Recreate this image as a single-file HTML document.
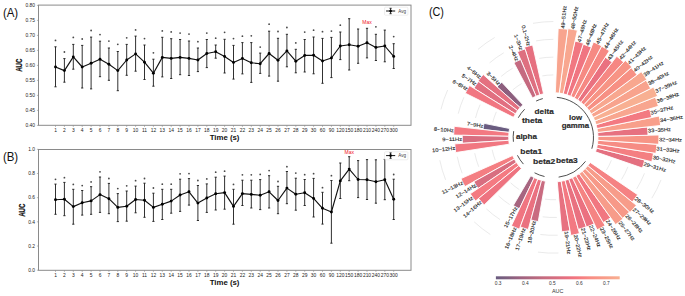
<!DOCTYPE html>
<html><head><meta charset="utf-8"><style>
html,body{margin:0;padding:0;background:#fff;width:685px;height:296px;overflow:hidden}
svg{display:block}
text{font-family:"Liberation Sans", sans-serif}
</style></head><body>
<svg width="685" height="296" viewBox="0 0 685 296" font-family='"Liberation Sans", sans-serif'><rect x="38.5" y="5.1" width="372.5" height="120.2" fill="none" stroke="#8a8a8a" stroke-width="1.0"/>
<line x1="36.9" y1="5.4" x2="38.5" y2="5.4" stroke="#8a8a8a" stroke-width="0.6"/>
<text x="35.0" y="7.1000000000000005" font-size="4.9" text-anchor="end" fill="#222">0.80</text>
<line x1="36.9" y1="20.4" x2="38.5" y2="20.4" stroke="#8a8a8a" stroke-width="0.6"/>
<text x="35.0" y="22.099999999999998" font-size="4.9" text-anchor="end" fill="#222">0.75</text>
<line x1="36.9" y1="35.4" x2="38.5" y2="35.4" stroke="#8a8a8a" stroke-width="0.6"/>
<text x="35.0" y="37.1" font-size="4.9" text-anchor="end" fill="#222">0.70</text>
<line x1="36.9" y1="50.4" x2="38.5" y2="50.4" stroke="#8a8a8a" stroke-width="0.6"/>
<text x="35.0" y="52.1" font-size="4.9" text-anchor="end" fill="#222">0.65</text>
<line x1="36.9" y1="65.4" x2="38.5" y2="65.4" stroke="#8a8a8a" stroke-width="0.6"/>
<text x="35.0" y="67.10000000000001" font-size="4.9" text-anchor="end" fill="#222">0.60</text>
<line x1="36.9" y1="80.4" x2="38.5" y2="80.4" stroke="#8a8a8a" stroke-width="0.6"/>
<text x="35.0" y="82.10000000000001" font-size="4.9" text-anchor="end" fill="#222">0.55</text>
<line x1="36.9" y1="95.4" x2="38.5" y2="95.4" stroke="#8a8a8a" stroke-width="0.6"/>
<text x="35.0" y="97.10000000000001" font-size="4.9" text-anchor="end" fill="#222">0.50</text>
<line x1="36.9" y1="110.4" x2="38.5" y2="110.4" stroke="#8a8a8a" stroke-width="0.6"/>
<text x="35.0" y="112.10000000000001" font-size="4.9" text-anchor="end" fill="#222">0.45</text>
<line x1="36.9" y1="125.4" x2="38.5" y2="125.4" stroke="#8a8a8a" stroke-width="0.6"/>
<text x="35.0" y="127.10000000000001" font-size="4.9" text-anchor="end" fill="#222">0.40</text>
<line x1="55.50" y1="125.3" x2="55.50" y2="126.89999999999999" stroke="#8a8a8a" stroke-width="0.6"/>
<text x="55.50" y="132.1" font-size="4.9" text-anchor="middle" fill="#222">1</text>
<line x1="64.40" y1="125.3" x2="64.40" y2="126.89999999999999" stroke="#8a8a8a" stroke-width="0.6"/>
<text x="64.40" y="132.1" font-size="4.9" text-anchor="middle" fill="#222">2</text>
<line x1="73.30" y1="125.3" x2="73.30" y2="126.89999999999999" stroke="#8a8a8a" stroke-width="0.6"/>
<text x="73.30" y="132.1" font-size="4.9" text-anchor="middle" fill="#222">3</text>
<line x1="82.20" y1="125.3" x2="82.20" y2="126.89999999999999" stroke="#8a8a8a" stroke-width="0.6"/>
<text x="82.20" y="132.1" font-size="4.9" text-anchor="middle" fill="#222">4</text>
<line x1="91.10" y1="125.3" x2="91.10" y2="126.89999999999999" stroke="#8a8a8a" stroke-width="0.6"/>
<text x="91.10" y="132.1" font-size="4.9" text-anchor="middle" fill="#222">5</text>
<line x1="100.00" y1="125.3" x2="100.00" y2="126.89999999999999" stroke="#8a8a8a" stroke-width="0.6"/>
<text x="100.00" y="132.1" font-size="4.9" text-anchor="middle" fill="#222">6</text>
<line x1="108.90" y1="125.3" x2="108.90" y2="126.89999999999999" stroke="#8a8a8a" stroke-width="0.6"/>
<text x="108.90" y="132.1" font-size="4.9" text-anchor="middle" fill="#222">7</text>
<line x1="117.80" y1="125.3" x2="117.80" y2="126.89999999999999" stroke="#8a8a8a" stroke-width="0.6"/>
<text x="117.80" y="132.1" font-size="4.9" text-anchor="middle" fill="#222">8</text>
<line x1="126.70" y1="125.3" x2="126.70" y2="126.89999999999999" stroke="#8a8a8a" stroke-width="0.6"/>
<text x="126.70" y="132.1" font-size="4.9" text-anchor="middle" fill="#222">9</text>
<line x1="135.60" y1="125.3" x2="135.60" y2="126.89999999999999" stroke="#8a8a8a" stroke-width="0.6"/>
<text x="135.60" y="132.1" font-size="4.9" text-anchor="middle" fill="#222">10</text>
<line x1="144.50" y1="125.3" x2="144.50" y2="126.89999999999999" stroke="#8a8a8a" stroke-width="0.6"/>
<text x="144.50" y="132.1" font-size="4.9" text-anchor="middle" fill="#222">11</text>
<line x1="153.40" y1="125.3" x2="153.40" y2="126.89999999999999" stroke="#8a8a8a" stroke-width="0.6"/>
<text x="153.40" y="132.1" font-size="4.9" text-anchor="middle" fill="#222">12</text>
<line x1="162.30" y1="125.3" x2="162.30" y2="126.89999999999999" stroke="#8a8a8a" stroke-width="0.6"/>
<text x="162.30" y="132.1" font-size="4.9" text-anchor="middle" fill="#222">13</text>
<line x1="171.20" y1="125.3" x2="171.20" y2="126.89999999999999" stroke="#8a8a8a" stroke-width="0.6"/>
<text x="171.20" y="132.1" font-size="4.9" text-anchor="middle" fill="#222">14</text>
<line x1="180.10" y1="125.3" x2="180.10" y2="126.89999999999999" stroke="#8a8a8a" stroke-width="0.6"/>
<text x="180.10" y="132.1" font-size="4.9" text-anchor="middle" fill="#222">15</text>
<line x1="189.00" y1="125.3" x2="189.00" y2="126.89999999999999" stroke="#8a8a8a" stroke-width="0.6"/>
<text x="189.00" y="132.1" font-size="4.9" text-anchor="middle" fill="#222">16</text>
<line x1="197.90" y1="125.3" x2="197.90" y2="126.89999999999999" stroke="#8a8a8a" stroke-width="0.6"/>
<text x="197.90" y="132.1" font-size="4.9" text-anchor="middle" fill="#222">17</text>
<line x1="206.80" y1="125.3" x2="206.80" y2="126.89999999999999" stroke="#8a8a8a" stroke-width="0.6"/>
<text x="206.80" y="132.1" font-size="4.9" text-anchor="middle" fill="#222">18</text>
<line x1="215.70" y1="125.3" x2="215.70" y2="126.89999999999999" stroke="#8a8a8a" stroke-width="0.6"/>
<text x="215.70" y="132.1" font-size="4.9" text-anchor="middle" fill="#222">19</text>
<line x1="224.60" y1="125.3" x2="224.60" y2="126.89999999999999" stroke="#8a8a8a" stroke-width="0.6"/>
<text x="224.60" y="132.1" font-size="4.9" text-anchor="middle" fill="#222">20</text>
<line x1="233.50" y1="125.3" x2="233.50" y2="126.89999999999999" stroke="#8a8a8a" stroke-width="0.6"/>
<text x="233.50" y="132.1" font-size="4.9" text-anchor="middle" fill="#222">21</text>
<line x1="242.40" y1="125.3" x2="242.40" y2="126.89999999999999" stroke="#8a8a8a" stroke-width="0.6"/>
<text x="242.40" y="132.1" font-size="4.9" text-anchor="middle" fill="#222">22</text>
<line x1="251.30" y1="125.3" x2="251.30" y2="126.89999999999999" stroke="#8a8a8a" stroke-width="0.6"/>
<text x="251.30" y="132.1" font-size="4.9" text-anchor="middle" fill="#222">23</text>
<line x1="260.20" y1="125.3" x2="260.20" y2="126.89999999999999" stroke="#8a8a8a" stroke-width="0.6"/>
<text x="260.20" y="132.1" font-size="4.9" text-anchor="middle" fill="#222">24</text>
<line x1="269.10" y1="125.3" x2="269.10" y2="126.89999999999999" stroke="#8a8a8a" stroke-width="0.6"/>
<text x="269.10" y="132.1" font-size="4.9" text-anchor="middle" fill="#222">25</text>
<line x1="278.00" y1="125.3" x2="278.00" y2="126.89999999999999" stroke="#8a8a8a" stroke-width="0.6"/>
<text x="278.00" y="132.1" font-size="4.9" text-anchor="middle" fill="#222">26</text>
<line x1="286.90" y1="125.3" x2="286.90" y2="126.89999999999999" stroke="#8a8a8a" stroke-width="0.6"/>
<text x="286.90" y="132.1" font-size="4.9" text-anchor="middle" fill="#222">27</text>
<line x1="295.80" y1="125.3" x2="295.80" y2="126.89999999999999" stroke="#8a8a8a" stroke-width="0.6"/>
<text x="295.80" y="132.1" font-size="4.9" text-anchor="middle" fill="#222">28</text>
<line x1="304.70" y1="125.3" x2="304.70" y2="126.89999999999999" stroke="#8a8a8a" stroke-width="0.6"/>
<text x="304.70" y="132.1" font-size="4.9" text-anchor="middle" fill="#222">29</text>
<line x1="313.60" y1="125.3" x2="313.60" y2="126.89999999999999" stroke="#8a8a8a" stroke-width="0.6"/>
<text x="313.60" y="132.1" font-size="4.9" text-anchor="middle" fill="#222">30</text>
<line x1="322.50" y1="125.3" x2="322.50" y2="126.89999999999999" stroke="#8a8a8a" stroke-width="0.6"/>
<text x="322.50" y="132.1" font-size="4.9" text-anchor="middle" fill="#222">60</text>
<line x1="331.40" y1="125.3" x2="331.40" y2="126.89999999999999" stroke="#8a8a8a" stroke-width="0.6"/>
<text x="331.40" y="132.1" font-size="4.9" text-anchor="middle" fill="#222">90</text>
<line x1="340.30" y1="125.3" x2="340.30" y2="126.89999999999999" stroke="#8a8a8a" stroke-width="0.6"/>
<text x="340.30" y="132.1" font-size="4.9" text-anchor="middle" fill="#222">120</text>
<line x1="349.20" y1="125.3" x2="349.20" y2="126.89999999999999" stroke="#8a8a8a" stroke-width="0.6"/>
<text x="349.20" y="132.1" font-size="4.9" text-anchor="middle" fill="#222">150</text>
<line x1="358.10" y1="125.3" x2="358.10" y2="126.89999999999999" stroke="#8a8a8a" stroke-width="0.6"/>
<text x="358.10" y="132.1" font-size="4.9" text-anchor="middle" fill="#222">180</text>
<line x1="367.00" y1="125.3" x2="367.00" y2="126.89999999999999" stroke="#8a8a8a" stroke-width="0.6"/>
<text x="367.00" y="132.1" font-size="4.9" text-anchor="middle" fill="#222">210</text>
<line x1="375.90" y1="125.3" x2="375.90" y2="126.89999999999999" stroke="#8a8a8a" stroke-width="0.6"/>
<text x="375.90" y="132.1" font-size="4.9" text-anchor="middle" fill="#222">240</text>
<line x1="384.80" y1="125.3" x2="384.80" y2="126.89999999999999" stroke="#8a8a8a" stroke-width="0.6"/>
<text x="384.80" y="132.1" font-size="4.9" text-anchor="middle" fill="#222">270</text>
<line x1="393.70" y1="125.3" x2="393.70" y2="126.89999999999999" stroke="#8a8a8a" stroke-width="0.6"/>
<text x="393.70" y="132.1" font-size="4.9" text-anchor="middle" fill="#222">300</text>
<line x1="55.50" y1="46.8" x2="55.50" y2="86.8" stroke="#1a1a1a" stroke-width="0.9"/>
<line x1="54.40" y1="46.8" x2="56.60" y2="46.8" stroke="#1a1a1a" stroke-width="0.9"/>
<line x1="54.40" y1="86.8" x2="56.60" y2="86.8" stroke="#1a1a1a" stroke-width="0.9"/>
<circle cx="55.50" cy="40.40" r="0.9" fill="#4a4a4a"/>
<line x1="64.40" y1="58.6" x2="64.40" y2="82.2" stroke="#1a1a1a" stroke-width="0.9"/>
<line x1="63.30" y1="58.6" x2="65.50" y2="58.6" stroke="#1a1a1a" stroke-width="0.9"/>
<line x1="63.30" y1="82.2" x2="65.50" y2="82.2" stroke="#1a1a1a" stroke-width="0.9"/>
<circle cx="64.40" cy="52.00" r="0.9" fill="#4a4a4a"/>
<line x1="73.30" y1="44.4" x2="73.30" y2="69.2" stroke="#1a1a1a" stroke-width="0.9"/>
<line x1="72.20" y1="44.4" x2="74.40" y2="44.4" stroke="#1a1a1a" stroke-width="0.9"/>
<line x1="72.20" y1="69.2" x2="74.40" y2="69.2" stroke="#1a1a1a" stroke-width="0.9"/>
<circle cx="73.30" cy="37.40" r="0.9" fill="#4a4a4a"/>
<line x1="82.20" y1="45.4" x2="82.20" y2="88.0" stroke="#1a1a1a" stroke-width="0.9"/>
<line x1="81.10" y1="45.4" x2="83.30" y2="45.4" stroke="#1a1a1a" stroke-width="0.9"/>
<line x1="81.10" y1="88.0" x2="83.30" y2="88.0" stroke="#1a1a1a" stroke-width="0.9"/>
<circle cx="82.20" cy="39.00" r="0.9" fill="#4a4a4a"/>
<line x1="91.10" y1="37.1" x2="91.10" y2="88.9" stroke="#1a1a1a" stroke-width="0.9"/>
<line x1="90.00" y1="37.1" x2="92.20" y2="37.1" stroke="#1a1a1a" stroke-width="0.9"/>
<line x1="90.00" y1="88.9" x2="92.20" y2="88.9" stroke="#1a1a1a" stroke-width="0.9"/>
<circle cx="91.10" cy="30.50" r="0.9" fill="#4a4a4a"/>
<line x1="100.00" y1="41.2" x2="100.00" y2="76.7" stroke="#1a1a1a" stroke-width="0.9"/>
<line x1="98.90" y1="41.2" x2="101.10" y2="41.2" stroke="#1a1a1a" stroke-width="0.9"/>
<line x1="98.90" y1="76.7" x2="101.10" y2="76.7" stroke="#1a1a1a" stroke-width="0.9"/>
<circle cx="100.00" cy="34.60" r="0.9" fill="#4a4a4a"/>
<line x1="108.90" y1="48.0" x2="108.90" y2="80.3" stroke="#1a1a1a" stroke-width="0.9"/>
<line x1="107.80" y1="48.0" x2="110.00" y2="48.0" stroke="#1a1a1a" stroke-width="0.9"/>
<line x1="107.80" y1="80.3" x2="110.00" y2="80.3" stroke="#1a1a1a" stroke-width="0.9"/>
<circle cx="108.90" cy="41.10" r="0.9" fill="#4a4a4a"/>
<line x1="117.80" y1="51.5" x2="117.80" y2="90.7" stroke="#1a1a1a" stroke-width="0.9"/>
<line x1="116.70" y1="51.5" x2="118.90" y2="51.5" stroke="#1a1a1a" stroke-width="0.9"/>
<line x1="116.70" y1="90.7" x2="118.90" y2="90.7" stroke="#1a1a1a" stroke-width="0.9"/>
<circle cx="117.80" cy="44.30" r="0.9" fill="#4a4a4a"/>
<line x1="126.70" y1="44.4" x2="126.70" y2="75.3" stroke="#1a1a1a" stroke-width="0.9"/>
<line x1="125.60" y1="44.4" x2="127.80" y2="44.4" stroke="#1a1a1a" stroke-width="0.9"/>
<line x1="125.60" y1="75.3" x2="127.80" y2="75.3" stroke="#1a1a1a" stroke-width="0.9"/>
<circle cx="126.70" cy="37.80" r="0.9" fill="#4a4a4a"/>
<line x1="135.60" y1="36.1" x2="135.60" y2="71.2" stroke="#1a1a1a" stroke-width="0.9"/>
<line x1="134.50" y1="36.1" x2="136.70" y2="36.1" stroke="#1a1a1a" stroke-width="0.9"/>
<line x1="134.50" y1="71.2" x2="136.70" y2="71.2" stroke="#1a1a1a" stroke-width="0.9"/>
<circle cx="135.60" cy="29.90" r="0.9" fill="#4a4a4a"/>
<line x1="144.50" y1="45.0" x2="144.50" y2="79.5" stroke="#1a1a1a" stroke-width="0.9"/>
<line x1="143.40" y1="45.0" x2="145.60" y2="45.0" stroke="#1a1a1a" stroke-width="0.9"/>
<line x1="143.40" y1="79.5" x2="145.60" y2="79.5" stroke="#1a1a1a" stroke-width="0.9"/>
<circle cx="144.50" cy="38.60" r="0.9" fill="#4a4a4a"/>
<line x1="153.40" y1="59.2" x2="153.40" y2="86.2" stroke="#1a1a1a" stroke-width="0.9"/>
<line x1="152.30" y1="59.2" x2="154.50" y2="59.2" stroke="#1a1a1a" stroke-width="0.9"/>
<line x1="152.30" y1="86.2" x2="154.50" y2="86.2" stroke="#1a1a1a" stroke-width="0.9"/>
<circle cx="153.40" cy="52.80" r="0.9" fill="#4a4a4a"/>
<line x1="162.30" y1="37.3" x2="162.30" y2="76.9" stroke="#1a1a1a" stroke-width="0.9"/>
<line x1="161.20" y1="37.3" x2="163.40" y2="37.3" stroke="#1a1a1a" stroke-width="0.9"/>
<line x1="161.20" y1="76.9" x2="163.40" y2="76.9" stroke="#1a1a1a" stroke-width="0.9"/>
<circle cx="162.30" cy="30.90" r="0.9" fill="#4a4a4a"/>
<line x1="171.20" y1="38.7" x2="171.20" y2="78.5" stroke="#1a1a1a" stroke-width="0.9"/>
<line x1="170.10" y1="38.7" x2="172.30" y2="38.7" stroke="#1a1a1a" stroke-width="0.9"/>
<line x1="170.10" y1="78.5" x2="172.30" y2="78.5" stroke="#1a1a1a" stroke-width="0.9"/>
<circle cx="171.20" cy="31.90" r="0.9" fill="#4a4a4a"/>
<line x1="180.10" y1="39.5" x2="180.10" y2="74.7" stroke="#1a1a1a" stroke-width="0.9"/>
<line x1="179.00" y1="39.5" x2="181.20" y2="39.5" stroke="#1a1a1a" stroke-width="0.9"/>
<line x1="179.00" y1="74.7" x2="181.20" y2="74.7" stroke="#1a1a1a" stroke-width="0.9"/>
<circle cx="180.10" cy="33.10" r="0.9" fill="#4a4a4a"/>
<line x1="189.00" y1="41.0" x2="189.00" y2="75.5" stroke="#1a1a1a" stroke-width="0.9"/>
<line x1="187.90" y1="41.0" x2="190.10" y2="41.0" stroke="#1a1a1a" stroke-width="0.9"/>
<line x1="187.90" y1="75.5" x2="190.10" y2="75.5" stroke="#1a1a1a" stroke-width="0.9"/>
<circle cx="189.00" cy="34.10" r="0.9" fill="#4a4a4a"/>
<line x1="197.90" y1="48.0" x2="197.90" y2="71.6" stroke="#1a1a1a" stroke-width="0.9"/>
<line x1="196.80" y1="48.0" x2="199.00" y2="48.0" stroke="#1a1a1a" stroke-width="0.9"/>
<line x1="196.80" y1="71.6" x2="199.00" y2="71.6" stroke="#1a1a1a" stroke-width="0.9"/>
<circle cx="197.90" cy="41.70" r="0.9" fill="#4a4a4a"/>
<line x1="206.80" y1="39.5" x2="206.80" y2="67.6" stroke="#1a1a1a" stroke-width="0.9"/>
<line x1="205.70" y1="39.5" x2="207.90" y2="39.5" stroke="#1a1a1a" stroke-width="0.9"/>
<line x1="205.70" y1="67.6" x2="207.90" y2="67.6" stroke="#1a1a1a" stroke-width="0.9"/>
<circle cx="206.80" cy="33.10" r="0.9" fill="#4a4a4a"/>
<line x1="215.70" y1="45.0" x2="215.70" y2="58.2" stroke="#1a1a1a" stroke-width="0.9"/>
<line x1="214.60" y1="45.0" x2="216.80" y2="45.0" stroke="#1a1a1a" stroke-width="0.9"/>
<line x1="214.60" y1="58.2" x2="216.80" y2="58.2" stroke="#1a1a1a" stroke-width="0.9"/>
<circle cx="215.70" cy="38.20" r="0.9" fill="#4a4a4a"/>
<line x1="224.60" y1="39.3" x2="224.60" y2="73.0" stroke="#1a1a1a" stroke-width="0.9"/>
<line x1="223.50" y1="39.3" x2="225.70" y2="39.3" stroke="#1a1a1a" stroke-width="0.9"/>
<line x1="223.50" y1="73.0" x2="225.70" y2="73.0" stroke="#1a1a1a" stroke-width="0.9"/>
<circle cx="224.60" cy="32.30" r="0.9" fill="#4a4a4a"/>
<line x1="233.50" y1="45.4" x2="233.50" y2="79.1" stroke="#1a1a1a" stroke-width="0.9"/>
<line x1="232.40" y1="45.4" x2="234.60" y2="45.4" stroke="#1a1a1a" stroke-width="0.9"/>
<line x1="232.40" y1="79.1" x2="234.60" y2="79.1" stroke="#1a1a1a" stroke-width="0.9"/>
<circle cx="233.50" cy="38.60" r="0.9" fill="#4a4a4a"/>
<line x1="242.40" y1="42.6" x2="242.40" y2="73.9" stroke="#1a1a1a" stroke-width="0.9"/>
<line x1="241.30" y1="42.6" x2="243.50" y2="42.6" stroke="#1a1a1a" stroke-width="0.9"/>
<line x1="241.30" y1="73.9" x2="243.50" y2="73.9" stroke="#1a1a1a" stroke-width="0.9"/>
<circle cx="242.40" cy="36.20" r="0.9" fill="#4a4a4a"/>
<line x1="251.30" y1="42.6" x2="251.30" y2="82.4" stroke="#1a1a1a" stroke-width="0.9"/>
<line x1="250.20" y1="42.6" x2="252.40" y2="42.6" stroke="#1a1a1a" stroke-width="0.9"/>
<line x1="250.20" y1="82.4" x2="252.40" y2="82.4" stroke="#1a1a1a" stroke-width="0.9"/>
<circle cx="251.30" cy="35.80" r="0.9" fill="#4a4a4a"/>
<line x1="260.20" y1="53.1" x2="260.20" y2="73.4" stroke="#1a1a1a" stroke-width="0.9"/>
<line x1="259.10" y1="53.1" x2="261.30" y2="53.1" stroke="#1a1a1a" stroke-width="0.9"/>
<line x1="259.10" y1="73.4" x2="261.30" y2="73.4" stroke="#1a1a1a" stroke-width="0.9"/>
<circle cx="260.20" cy="47.10" r="0.9" fill="#4a4a4a"/>
<line x1="269.10" y1="31.2" x2="269.10" y2="76.1" stroke="#1a1a1a" stroke-width="0.9"/>
<line x1="268.00" y1="31.2" x2="270.20" y2="31.2" stroke="#1a1a1a" stroke-width="0.9"/>
<line x1="268.00" y1="76.1" x2="270.20" y2="76.1" stroke="#1a1a1a" stroke-width="0.9"/>
<circle cx="269.10" cy="24.20" r="0.9" fill="#4a4a4a"/>
<line x1="278.00" y1="38.3" x2="278.00" y2="81.2" stroke="#1a1a1a" stroke-width="0.9"/>
<line x1="276.90" y1="38.3" x2="279.10" y2="38.3" stroke="#1a1a1a" stroke-width="0.9"/>
<line x1="276.90" y1="81.2" x2="279.10" y2="81.2" stroke="#1a1a1a" stroke-width="0.9"/>
<circle cx="278.00" cy="31.50" r="0.9" fill="#4a4a4a"/>
<line x1="286.90" y1="34.3" x2="286.90" y2="66.8" stroke="#1a1a1a" stroke-width="0.9"/>
<line x1="285.80" y1="34.3" x2="288.00" y2="34.3" stroke="#1a1a1a" stroke-width="0.9"/>
<line x1="285.80" y1="66.8" x2="288.00" y2="66.8" stroke="#1a1a1a" stroke-width="0.9"/>
<circle cx="286.90" cy="27.50" r="0.9" fill="#4a4a4a"/>
<line x1="295.80" y1="49.3" x2="295.80" y2="72.8" stroke="#1a1a1a" stroke-width="0.9"/>
<line x1="294.70" y1="49.3" x2="296.90" y2="49.3" stroke="#1a1a1a" stroke-width="0.9"/>
<line x1="294.70" y1="72.8" x2="296.90" y2="72.8" stroke="#1a1a1a" stroke-width="0.9"/>
<circle cx="295.80" cy="42.90" r="0.9" fill="#4a4a4a"/>
<line x1="304.70" y1="39.5" x2="304.70" y2="72.0" stroke="#1a1a1a" stroke-width="0.9"/>
<line x1="303.60" y1="39.5" x2="305.80" y2="39.5" stroke="#1a1a1a" stroke-width="0.9"/>
<line x1="303.60" y1="72.0" x2="305.80" y2="72.0" stroke="#1a1a1a" stroke-width="0.9"/>
<circle cx="304.70" cy="32.10" r="0.9" fill="#4a4a4a"/>
<line x1="313.60" y1="37.0" x2="313.60" y2="73.8" stroke="#1a1a1a" stroke-width="0.9"/>
<line x1="312.50" y1="37.0" x2="314.70" y2="37.0" stroke="#1a1a1a" stroke-width="0.9"/>
<line x1="312.50" y1="73.8" x2="314.70" y2="73.8" stroke="#1a1a1a" stroke-width="0.9"/>
<circle cx="313.60" cy="30.20" r="0.9" fill="#4a4a4a"/>
<line x1="322.50" y1="38.4" x2="322.50" y2="83.3" stroke="#1a1a1a" stroke-width="0.9"/>
<line x1="321.40" y1="38.4" x2="323.60" y2="38.4" stroke="#1a1a1a" stroke-width="0.9"/>
<line x1="321.40" y1="83.3" x2="323.60" y2="83.3" stroke="#1a1a1a" stroke-width="0.9"/>
<circle cx="322.50" cy="31.70" r="0.9" fill="#4a4a4a"/>
<line x1="331.40" y1="37.4" x2="331.40" y2="77.6" stroke="#1a1a1a" stroke-width="0.9"/>
<line x1="330.30" y1="37.4" x2="332.50" y2="37.4" stroke="#1a1a1a" stroke-width="0.9"/>
<line x1="330.30" y1="77.6" x2="332.50" y2="77.6" stroke="#1a1a1a" stroke-width="0.9"/>
<circle cx="331.40" cy="31.10" r="0.9" fill="#4a4a4a"/>
<line x1="340.30" y1="32.0" x2="340.30" y2="59.6" stroke="#1a1a1a" stroke-width="0.9"/>
<line x1="339.20" y1="32.0" x2="341.40" y2="32.0" stroke="#1a1a1a" stroke-width="0.9"/>
<line x1="339.20" y1="59.6" x2="341.40" y2="59.6" stroke="#1a1a1a" stroke-width="0.9"/>
<circle cx="340.30" cy="25.20" r="0.9" fill="#4a4a4a"/>
<line x1="349.20" y1="18.7" x2="349.20" y2="70.0" stroke="#1a1a1a" stroke-width="0.9"/>
<line x1="348.10" y1="18.7" x2="350.30" y2="18.7" stroke="#1a1a1a" stroke-width="0.9"/>
<line x1="348.10" y1="70.0" x2="350.30" y2="70.0" stroke="#1a1a1a" stroke-width="0.9"/>
<line x1="358.10" y1="29.0" x2="358.10" y2="63.3" stroke="#1a1a1a" stroke-width="0.9"/>
<line x1="357.00" y1="29.0" x2="359.20" y2="29.0" stroke="#1a1a1a" stroke-width="0.9"/>
<line x1="357.00" y1="63.3" x2="359.20" y2="63.3" stroke="#1a1a1a" stroke-width="0.9"/>
<line x1="367.00" y1="28.3" x2="367.00" y2="57.9" stroke="#1a1a1a" stroke-width="0.9"/>
<line x1="365.90" y1="28.3" x2="368.10" y2="28.3" stroke="#1a1a1a" stroke-width="0.9"/>
<line x1="365.90" y1="57.9" x2="368.10" y2="57.9" stroke="#1a1a1a" stroke-width="0.9"/>
<line x1="375.90" y1="34.3" x2="375.90" y2="60.5" stroke="#1a1a1a" stroke-width="0.9"/>
<line x1="374.80" y1="34.3" x2="377.00" y2="34.3" stroke="#1a1a1a" stroke-width="0.9"/>
<line x1="374.80" y1="60.5" x2="377.00" y2="60.5" stroke="#1a1a1a" stroke-width="0.9"/>
<circle cx="375.90" cy="26.80" r="0.9" fill="#4a4a4a"/>
<line x1="384.80" y1="30.1" x2="384.80" y2="61.8" stroke="#1a1a1a" stroke-width="0.9"/>
<line x1="383.70" y1="30.1" x2="385.90" y2="30.1" stroke="#1a1a1a" stroke-width="0.9"/>
<line x1="383.70" y1="61.8" x2="385.90" y2="61.8" stroke="#1a1a1a" stroke-width="0.9"/>
<line x1="393.70" y1="43.7" x2="393.70" y2="68.5" stroke="#1a1a1a" stroke-width="0.9"/>
<line x1="392.60" y1="43.7" x2="394.80" y2="43.7" stroke="#1a1a1a" stroke-width="0.9"/>
<line x1="392.60" y1="68.5" x2="394.80" y2="68.5" stroke="#1a1a1a" stroke-width="0.9"/>
<circle cx="393.70" cy="36.60" r="0.9" fill="#4a4a4a"/>
<polyline points="55.50,67.0 64.40,70.6 73.30,56.9 82.20,67.0 91.10,63.3 100.00,59.3 108.90,64.3 117.80,70.6 126.70,60.0 135.60,53.9 144.50,62.2 153.40,73.2 162.30,57.4 171.20,58.4 180.10,57.4 189.00,58.4 197.90,60.0 206.80,53.5 215.70,51.7 224.60,56.4 233.50,62.4 242.40,58.4 251.30,62.8 260.20,63.7 269.10,53.5 278.00,60.2 286.90,50.9 295.80,61.2 304.70,55.4 313.60,55.2 322.50,61.0 331.40,58.0 340.30,46.0 349.20,44.7 358.10,46.2 367.00,42.8 375.90,47.4 384.80,46.0 393.70,56.4" fill="none" stroke="#111" stroke-width="1.15" stroke-linejoin="round"/>
<circle cx="55.50" cy="67.0" r="1.45" fill="#000"/>
<circle cx="64.40" cy="70.6" r="1.45" fill="#000"/>
<circle cx="73.30" cy="56.9" r="1.45" fill="#000"/>
<circle cx="82.20" cy="67.0" r="1.45" fill="#000"/>
<circle cx="91.10" cy="63.3" r="1.45" fill="#000"/>
<circle cx="100.00" cy="59.3" r="1.45" fill="#000"/>
<circle cx="108.90" cy="64.3" r="1.45" fill="#000"/>
<circle cx="117.80" cy="70.6" r="1.45" fill="#000"/>
<circle cx="126.70" cy="60.0" r="1.45" fill="#000"/>
<circle cx="135.60" cy="53.9" r="1.45" fill="#000"/>
<circle cx="144.50" cy="62.2" r="1.45" fill="#000"/>
<circle cx="153.40" cy="73.2" r="1.45" fill="#000"/>
<circle cx="162.30" cy="57.4" r="1.45" fill="#000"/>
<circle cx="171.20" cy="58.4" r="1.45" fill="#000"/>
<circle cx="180.10" cy="57.4" r="1.45" fill="#000"/>
<circle cx="189.00" cy="58.4" r="1.45" fill="#000"/>
<circle cx="197.90" cy="60.0" r="1.45" fill="#000"/>
<circle cx="206.80" cy="53.5" r="1.45" fill="#000"/>
<circle cx="215.70" cy="51.7" r="1.45" fill="#000"/>
<circle cx="224.60" cy="56.4" r="1.45" fill="#000"/>
<circle cx="233.50" cy="62.4" r="1.45" fill="#000"/>
<circle cx="242.40" cy="58.4" r="1.45" fill="#000"/>
<circle cx="251.30" cy="62.8" r="1.45" fill="#000"/>
<circle cx="260.20" cy="63.7" r="1.45" fill="#000"/>
<circle cx="269.10" cy="53.5" r="1.45" fill="#000"/>
<circle cx="278.00" cy="60.2" r="1.45" fill="#000"/>
<circle cx="286.90" cy="50.9" r="1.45" fill="#000"/>
<circle cx="295.80" cy="61.2" r="1.45" fill="#000"/>
<circle cx="304.70" cy="55.4" r="1.45" fill="#000"/>
<circle cx="313.60" cy="55.2" r="1.45" fill="#000"/>
<circle cx="322.50" cy="61.0" r="1.45" fill="#000"/>
<circle cx="331.40" cy="58.0" r="1.45" fill="#000"/>
<circle cx="340.30" cy="46.0" r="1.45" fill="#000"/>
<circle cx="349.20" cy="44.7" r="1.45" fill="#000"/>
<circle cx="358.10" cy="46.2" r="1.45" fill="#000"/>
<circle cx="367.00" cy="42.8" r="1.45" fill="#000"/>
<circle cx="375.90" cy="47.4" r="1.45" fill="#000"/>
<circle cx="384.80" cy="46.0" r="1.45" fill="#000"/>
<circle cx="393.70" cy="56.4" r="1.45" fill="#000"/>
<text x="367.00" y="23.6" font-size="5.0" text-anchor="middle" fill="#f0141e">Max</text>
<rect x="384.6" y="7.2" width="23.3" height="8" rx="0.8" fill="#fff" stroke="#dcdcdc" stroke-width="0.5"/>
<line x1="386.1" y1="11.0" x2="395.2" y2="11.0" stroke="#111" stroke-width="1"/>
<line x1="390.6" y1="8.3" x2="390.6" y2="13.7" stroke="#111" stroke-width="0.9"/>
<line x1="389.5" y1="8.3" x2="391.7" y2="8.3" stroke="#111" stroke-width="0.8"/>
<line x1="389.5" y1="13.7" x2="391.7" y2="13.7" stroke="#111" stroke-width="0.8"/>
<circle cx="390.6" cy="11.0" r="1.35" fill="#000"/>
<text x="398.3" y="12.6" font-size="4.6" fill="#444">Avg</text>
<text x="2.9" y="16.5" font-size="12" textLength="15.3" lengthAdjust="spacingAndGlyphs" fill="#111">(A)</text>
<text transform="translate(19.05,65.2) rotate(-90) scale(0.75,1)" x="0" y="2.9" font-size="8.2" font-weight="bold" text-anchor="middle" fill="#111" stroke="#111" stroke-width="0.25">AUC</text>
<text x="224.6" y="140.1" font-size="7.8" font-weight="bold" text-anchor="middle" fill="#111">Time (s)</text>
<rect x="38.5" y="149.5" width="372.5" height="120.80000000000001" fill="none" stroke="#8a8a8a" stroke-width="1.0"/>
<line x1="36.9" y1="149.3" x2="38.5" y2="149.3" stroke="#8a8a8a" stroke-width="0.6"/>
<text x="35.0" y="151.0" font-size="4.9" text-anchor="end" fill="#222">1.0</text>
<line x1="36.9" y1="173.48" x2="38.5" y2="173.48" stroke="#8a8a8a" stroke-width="0.6"/>
<text x="35.0" y="175.17999999999998" font-size="4.9" text-anchor="end" fill="#222">0.8</text>
<line x1="36.9" y1="197.66" x2="38.5" y2="197.66" stroke="#8a8a8a" stroke-width="0.6"/>
<text x="35.0" y="199.35999999999999" font-size="4.9" text-anchor="end" fill="#222">0.6</text>
<line x1="36.9" y1="221.84" x2="38.5" y2="221.84" stroke="#8a8a8a" stroke-width="0.6"/>
<text x="35.0" y="223.54" font-size="4.9" text-anchor="end" fill="#222">0.4</text>
<line x1="36.9" y1="246.02" x2="38.5" y2="246.02" stroke="#8a8a8a" stroke-width="0.6"/>
<text x="35.0" y="247.72" font-size="4.9" text-anchor="end" fill="#222">0.2</text>
<line x1="36.9" y1="270.2" x2="38.5" y2="270.2" stroke="#8a8a8a" stroke-width="0.6"/>
<text x="35.0" y="271.9" font-size="4.9" text-anchor="end" fill="#222">0.0</text>
<line x1="55.50" y1="270.3" x2="55.50" y2="271.90000000000003" stroke="#8a8a8a" stroke-width="0.6"/>
<text x="55.50" y="277.1" font-size="4.9" text-anchor="middle" fill="#222">1</text>
<line x1="64.40" y1="270.3" x2="64.40" y2="271.90000000000003" stroke="#8a8a8a" stroke-width="0.6"/>
<text x="64.40" y="277.1" font-size="4.9" text-anchor="middle" fill="#222">2</text>
<line x1="73.30" y1="270.3" x2="73.30" y2="271.90000000000003" stroke="#8a8a8a" stroke-width="0.6"/>
<text x="73.30" y="277.1" font-size="4.9" text-anchor="middle" fill="#222">3</text>
<line x1="82.20" y1="270.3" x2="82.20" y2="271.90000000000003" stroke="#8a8a8a" stroke-width="0.6"/>
<text x="82.20" y="277.1" font-size="4.9" text-anchor="middle" fill="#222">4</text>
<line x1="91.10" y1="270.3" x2="91.10" y2="271.90000000000003" stroke="#8a8a8a" stroke-width="0.6"/>
<text x="91.10" y="277.1" font-size="4.9" text-anchor="middle" fill="#222">5</text>
<line x1="100.00" y1="270.3" x2="100.00" y2="271.90000000000003" stroke="#8a8a8a" stroke-width="0.6"/>
<text x="100.00" y="277.1" font-size="4.9" text-anchor="middle" fill="#222">6</text>
<line x1="108.90" y1="270.3" x2="108.90" y2="271.90000000000003" stroke="#8a8a8a" stroke-width="0.6"/>
<text x="108.90" y="277.1" font-size="4.9" text-anchor="middle" fill="#222">7</text>
<line x1="117.80" y1="270.3" x2="117.80" y2="271.90000000000003" stroke="#8a8a8a" stroke-width="0.6"/>
<text x="117.80" y="277.1" font-size="4.9" text-anchor="middle" fill="#222">8</text>
<line x1="126.70" y1="270.3" x2="126.70" y2="271.90000000000003" stroke="#8a8a8a" stroke-width="0.6"/>
<text x="126.70" y="277.1" font-size="4.9" text-anchor="middle" fill="#222">9</text>
<line x1="135.60" y1="270.3" x2="135.60" y2="271.90000000000003" stroke="#8a8a8a" stroke-width="0.6"/>
<text x="135.60" y="277.1" font-size="4.9" text-anchor="middle" fill="#222">10</text>
<line x1="144.50" y1="270.3" x2="144.50" y2="271.90000000000003" stroke="#8a8a8a" stroke-width="0.6"/>
<text x="144.50" y="277.1" font-size="4.9" text-anchor="middle" fill="#222">11</text>
<line x1="153.40" y1="270.3" x2="153.40" y2="271.90000000000003" stroke="#8a8a8a" stroke-width="0.6"/>
<text x="153.40" y="277.1" font-size="4.9" text-anchor="middle" fill="#222">12</text>
<line x1="162.30" y1="270.3" x2="162.30" y2="271.90000000000003" stroke="#8a8a8a" stroke-width="0.6"/>
<text x="162.30" y="277.1" font-size="4.9" text-anchor="middle" fill="#222">13</text>
<line x1="171.20" y1="270.3" x2="171.20" y2="271.90000000000003" stroke="#8a8a8a" stroke-width="0.6"/>
<text x="171.20" y="277.1" font-size="4.9" text-anchor="middle" fill="#222">14</text>
<line x1="180.10" y1="270.3" x2="180.10" y2="271.90000000000003" stroke="#8a8a8a" stroke-width="0.6"/>
<text x="180.10" y="277.1" font-size="4.9" text-anchor="middle" fill="#222">15</text>
<line x1="189.00" y1="270.3" x2="189.00" y2="271.90000000000003" stroke="#8a8a8a" stroke-width="0.6"/>
<text x="189.00" y="277.1" font-size="4.9" text-anchor="middle" fill="#222">16</text>
<line x1="197.90" y1="270.3" x2="197.90" y2="271.90000000000003" stroke="#8a8a8a" stroke-width="0.6"/>
<text x="197.90" y="277.1" font-size="4.9" text-anchor="middle" fill="#222">17</text>
<line x1="206.80" y1="270.3" x2="206.80" y2="271.90000000000003" stroke="#8a8a8a" stroke-width="0.6"/>
<text x="206.80" y="277.1" font-size="4.9" text-anchor="middle" fill="#222">18</text>
<line x1="215.70" y1="270.3" x2="215.70" y2="271.90000000000003" stroke="#8a8a8a" stroke-width="0.6"/>
<text x="215.70" y="277.1" font-size="4.9" text-anchor="middle" fill="#222">19</text>
<line x1="224.60" y1="270.3" x2="224.60" y2="271.90000000000003" stroke="#8a8a8a" stroke-width="0.6"/>
<text x="224.60" y="277.1" font-size="4.9" text-anchor="middle" fill="#222">20</text>
<line x1="233.50" y1="270.3" x2="233.50" y2="271.90000000000003" stroke="#8a8a8a" stroke-width="0.6"/>
<text x="233.50" y="277.1" font-size="4.9" text-anchor="middle" fill="#222">21</text>
<line x1="242.40" y1="270.3" x2="242.40" y2="271.90000000000003" stroke="#8a8a8a" stroke-width="0.6"/>
<text x="242.40" y="277.1" font-size="4.9" text-anchor="middle" fill="#222">22</text>
<line x1="251.30" y1="270.3" x2="251.30" y2="271.90000000000003" stroke="#8a8a8a" stroke-width="0.6"/>
<text x="251.30" y="277.1" font-size="4.9" text-anchor="middle" fill="#222">23</text>
<line x1="260.20" y1="270.3" x2="260.20" y2="271.90000000000003" stroke="#8a8a8a" stroke-width="0.6"/>
<text x="260.20" y="277.1" font-size="4.9" text-anchor="middle" fill="#222">24</text>
<line x1="269.10" y1="270.3" x2="269.10" y2="271.90000000000003" stroke="#8a8a8a" stroke-width="0.6"/>
<text x="269.10" y="277.1" font-size="4.9" text-anchor="middle" fill="#222">25</text>
<line x1="278.00" y1="270.3" x2="278.00" y2="271.90000000000003" stroke="#8a8a8a" stroke-width="0.6"/>
<text x="278.00" y="277.1" font-size="4.9" text-anchor="middle" fill="#222">26</text>
<line x1="286.90" y1="270.3" x2="286.90" y2="271.90000000000003" stroke="#8a8a8a" stroke-width="0.6"/>
<text x="286.90" y="277.1" font-size="4.9" text-anchor="middle" fill="#222">27</text>
<line x1="295.80" y1="270.3" x2="295.80" y2="271.90000000000003" stroke="#8a8a8a" stroke-width="0.6"/>
<text x="295.80" y="277.1" font-size="4.9" text-anchor="middle" fill="#222">28</text>
<line x1="304.70" y1="270.3" x2="304.70" y2="271.90000000000003" stroke="#8a8a8a" stroke-width="0.6"/>
<text x="304.70" y="277.1" font-size="4.9" text-anchor="middle" fill="#222">29</text>
<line x1="313.60" y1="270.3" x2="313.60" y2="271.90000000000003" stroke="#8a8a8a" stroke-width="0.6"/>
<text x="313.60" y="277.1" font-size="4.9" text-anchor="middle" fill="#222">30</text>
<line x1="322.50" y1="270.3" x2="322.50" y2="271.90000000000003" stroke="#8a8a8a" stroke-width="0.6"/>
<text x="322.50" y="277.1" font-size="4.9" text-anchor="middle" fill="#222">60</text>
<line x1="331.40" y1="270.3" x2="331.40" y2="271.90000000000003" stroke="#8a8a8a" stroke-width="0.6"/>
<text x="331.40" y="277.1" font-size="4.9" text-anchor="middle" fill="#222">90</text>
<line x1="340.30" y1="270.3" x2="340.30" y2="271.90000000000003" stroke="#8a8a8a" stroke-width="0.6"/>
<text x="340.30" y="277.1" font-size="4.9" text-anchor="middle" fill="#222">120</text>
<line x1="349.20" y1="270.3" x2="349.20" y2="271.90000000000003" stroke="#8a8a8a" stroke-width="0.6"/>
<text x="349.20" y="277.1" font-size="4.9" text-anchor="middle" fill="#222">150</text>
<line x1="358.10" y1="270.3" x2="358.10" y2="271.90000000000003" stroke="#8a8a8a" stroke-width="0.6"/>
<text x="358.10" y="277.1" font-size="4.9" text-anchor="middle" fill="#222">180</text>
<line x1="367.00" y1="270.3" x2="367.00" y2="271.90000000000003" stroke="#8a8a8a" stroke-width="0.6"/>
<text x="367.00" y="277.1" font-size="4.9" text-anchor="middle" fill="#222">210</text>
<line x1="375.90" y1="270.3" x2="375.90" y2="271.90000000000003" stroke="#8a8a8a" stroke-width="0.6"/>
<text x="375.90" y="277.1" font-size="4.9" text-anchor="middle" fill="#222">240</text>
<line x1="384.80" y1="270.3" x2="384.80" y2="271.90000000000003" stroke="#8a8a8a" stroke-width="0.6"/>
<text x="384.80" y="277.1" font-size="4.9" text-anchor="middle" fill="#222">270</text>
<line x1="393.70" y1="270.3" x2="393.70" y2="271.90000000000003" stroke="#8a8a8a" stroke-width="0.6"/>
<text x="393.70" y="277.1" font-size="4.9" text-anchor="middle" fill="#222">300</text>
<line x1="55.50" y1="184.1" x2="55.50" y2="214.3" stroke="#1a1a1a" stroke-width="0.9"/>
<line x1="54.40" y1="184.1" x2="56.60" y2="184.1" stroke="#1a1a1a" stroke-width="0.9"/>
<line x1="54.40" y1="214.3" x2="56.60" y2="214.3" stroke="#1a1a1a" stroke-width="0.9"/>
<circle cx="55.50" cy="179.30" r="0.9" fill="#4a4a4a"/>
<line x1="64.40" y1="182.4" x2="64.40" y2="215.7" stroke="#1a1a1a" stroke-width="0.9"/>
<line x1="63.30" y1="182.4" x2="65.50" y2="182.4" stroke="#1a1a1a" stroke-width="0.9"/>
<line x1="63.30" y1="215.7" x2="65.50" y2="215.7" stroke="#1a1a1a" stroke-width="0.9"/>
<circle cx="64.40" cy="177.70" r="0.9" fill="#4a4a4a"/>
<line x1="73.30" y1="189.3" x2="73.30" y2="224.2" stroke="#1a1a1a" stroke-width="0.9"/>
<line x1="72.20" y1="189.3" x2="74.40" y2="189.3" stroke="#1a1a1a" stroke-width="0.9"/>
<line x1="72.20" y1="224.2" x2="74.40" y2="224.2" stroke="#1a1a1a" stroke-width="0.9"/>
<circle cx="73.30" cy="184.40" r="0.9" fill="#4a4a4a"/>
<line x1="82.20" y1="190.5" x2="82.20" y2="215.1" stroke="#1a1a1a" stroke-width="0.9"/>
<line x1="81.10" y1="190.5" x2="83.30" y2="190.5" stroke="#1a1a1a" stroke-width="0.9"/>
<line x1="81.10" y1="215.1" x2="83.30" y2="215.1" stroke="#1a1a1a" stroke-width="0.9"/>
<circle cx="82.20" cy="185.60" r="0.9" fill="#4a4a4a"/>
<line x1="91.10" y1="186.7" x2="91.10" y2="214.3" stroke="#1a1a1a" stroke-width="0.9"/>
<line x1="90.00" y1="186.7" x2="92.20" y2="186.7" stroke="#1a1a1a" stroke-width="0.9"/>
<line x1="90.00" y1="214.3" x2="92.20" y2="214.3" stroke="#1a1a1a" stroke-width="0.9"/>
<circle cx="91.10" cy="181.90" r="0.9" fill="#4a4a4a"/>
<line x1="100.00" y1="177.0" x2="100.00" y2="212.4" stroke="#1a1a1a" stroke-width="0.9"/>
<line x1="98.90" y1="177.0" x2="101.10" y2="177.0" stroke="#1a1a1a" stroke-width="0.9"/>
<line x1="98.90" y1="212.4" x2="101.10" y2="212.4" stroke="#1a1a1a" stroke-width="0.9"/>
<circle cx="100.00" cy="171.80" r="0.9" fill="#4a4a4a"/>
<line x1="108.90" y1="183.4" x2="108.90" y2="213.7" stroke="#1a1a1a" stroke-width="0.9"/>
<line x1="107.80" y1="183.4" x2="110.00" y2="183.4" stroke="#1a1a1a" stroke-width="0.9"/>
<line x1="107.80" y1="213.7" x2="110.00" y2="213.7" stroke="#1a1a1a" stroke-width="0.9"/>
<circle cx="108.90" cy="178.50" r="0.9" fill="#4a4a4a"/>
<line x1="117.80" y1="193.6" x2="117.80" y2="221.6" stroke="#1a1a1a" stroke-width="0.9"/>
<line x1="116.70" y1="193.6" x2="118.90" y2="193.6" stroke="#1a1a1a" stroke-width="0.9"/>
<line x1="116.70" y1="221.6" x2="118.90" y2="221.6" stroke="#1a1a1a" stroke-width="0.9"/>
<circle cx="117.80" cy="188.60" r="0.9" fill="#4a4a4a"/>
<line x1="126.70" y1="191.0" x2="126.70" y2="221.2" stroke="#1a1a1a" stroke-width="0.9"/>
<line x1="125.60" y1="191.0" x2="127.80" y2="191.0" stroke="#1a1a1a" stroke-width="0.9"/>
<line x1="125.60" y1="221.2" x2="127.80" y2="221.2" stroke="#1a1a1a" stroke-width="0.9"/>
<circle cx="126.70" cy="185.80" r="0.9" fill="#4a4a4a"/>
<line x1="135.60" y1="186.1" x2="135.60" y2="212.8" stroke="#1a1a1a" stroke-width="0.9"/>
<line x1="134.50" y1="186.1" x2="136.70" y2="186.1" stroke="#1a1a1a" stroke-width="0.9"/>
<line x1="134.50" y1="212.8" x2="136.70" y2="212.8" stroke="#1a1a1a" stroke-width="0.9"/>
<circle cx="135.60" cy="180.70" r="0.9" fill="#4a4a4a"/>
<line x1="144.50" y1="183.2" x2="144.50" y2="217.3" stroke="#1a1a1a" stroke-width="0.9"/>
<line x1="143.40" y1="183.2" x2="145.60" y2="183.2" stroke="#1a1a1a" stroke-width="0.9"/>
<line x1="143.40" y1="217.3" x2="145.60" y2="217.3" stroke="#1a1a1a" stroke-width="0.9"/>
<circle cx="144.50" cy="178.50" r="0.9" fill="#4a4a4a"/>
<line x1="153.40" y1="193.2" x2="153.40" y2="221.4" stroke="#1a1a1a" stroke-width="0.9"/>
<line x1="152.30" y1="193.2" x2="154.50" y2="193.2" stroke="#1a1a1a" stroke-width="0.9"/>
<line x1="152.30" y1="221.4" x2="154.50" y2="221.4" stroke="#1a1a1a" stroke-width="0.9"/>
<circle cx="153.40" cy="188.00" r="0.9" fill="#4a4a4a"/>
<line x1="162.30" y1="189.3" x2="162.30" y2="219.5" stroke="#1a1a1a" stroke-width="0.9"/>
<line x1="161.20" y1="189.3" x2="163.40" y2="189.3" stroke="#1a1a1a" stroke-width="0.9"/>
<line x1="161.20" y1="219.5" x2="163.40" y2="219.5" stroke="#1a1a1a" stroke-width="0.9"/>
<circle cx="162.30" cy="184.20" r="0.9" fill="#4a4a4a"/>
<line x1="171.20" y1="189.3" x2="171.20" y2="213.2" stroke="#1a1a1a" stroke-width="0.9"/>
<line x1="170.10" y1="189.3" x2="172.30" y2="189.3" stroke="#1a1a1a" stroke-width="0.9"/>
<line x1="170.10" y1="213.2" x2="172.30" y2="213.2" stroke="#1a1a1a" stroke-width="0.9"/>
<circle cx="171.20" cy="184.20" r="0.9" fill="#4a4a4a"/>
<line x1="180.10" y1="179.2" x2="180.10" y2="211.4" stroke="#1a1a1a" stroke-width="0.9"/>
<line x1="179.00" y1="179.2" x2="181.20" y2="179.2" stroke="#1a1a1a" stroke-width="0.9"/>
<line x1="179.00" y1="211.4" x2="181.20" y2="211.4" stroke="#1a1a1a" stroke-width="0.9"/>
<circle cx="180.10" cy="173.80" r="0.9" fill="#4a4a4a"/>
<line x1="189.00" y1="178.6" x2="189.00" y2="205.1" stroke="#1a1a1a" stroke-width="0.9"/>
<line x1="187.90" y1="178.6" x2="190.10" y2="178.6" stroke="#1a1a1a" stroke-width="0.9"/>
<line x1="187.90" y1="205.1" x2="190.10" y2="205.1" stroke="#1a1a1a" stroke-width="0.9"/>
<circle cx="189.00" cy="173.60" r="0.9" fill="#4a4a4a"/>
<line x1="197.90" y1="185.5" x2="197.90" y2="220.5" stroke="#1a1a1a" stroke-width="0.9"/>
<line x1="196.80" y1="185.5" x2="199.00" y2="185.5" stroke="#1a1a1a" stroke-width="0.9"/>
<line x1="196.80" y1="220.5" x2="199.00" y2="220.5" stroke="#1a1a1a" stroke-width="0.9"/>
<circle cx="197.90" cy="180.50" r="0.9" fill="#4a4a4a"/>
<line x1="206.80" y1="183.9" x2="206.80" y2="212.4" stroke="#1a1a1a" stroke-width="0.9"/>
<line x1="205.70" y1="183.9" x2="207.90" y2="183.9" stroke="#1a1a1a" stroke-width="0.9"/>
<line x1="205.70" y1="212.4" x2="207.90" y2="212.4" stroke="#1a1a1a" stroke-width="0.9"/>
<circle cx="206.80" cy="178.90" r="0.9" fill="#4a4a4a"/>
<line x1="215.70" y1="177.2" x2="215.70" y2="210.0" stroke="#1a1a1a" stroke-width="0.9"/>
<line x1="214.60" y1="177.2" x2="216.80" y2="177.2" stroke="#1a1a1a" stroke-width="0.9"/>
<line x1="214.60" y1="210.0" x2="216.80" y2="210.0" stroke="#1a1a1a" stroke-width="0.9"/>
<circle cx="215.70" cy="172.20" r="0.9" fill="#4a4a4a"/>
<line x1="224.60" y1="176.1" x2="224.60" y2="209.2" stroke="#1a1a1a" stroke-width="0.9"/>
<line x1="223.50" y1="176.1" x2="225.70" y2="176.1" stroke="#1a1a1a" stroke-width="0.9"/>
<line x1="223.50" y1="209.2" x2="225.70" y2="209.2" stroke="#1a1a1a" stroke-width="0.9"/>
<circle cx="224.60" cy="171.20" r="0.9" fill="#4a4a4a"/>
<line x1="233.50" y1="189.3" x2="233.50" y2="224.2" stroke="#1a1a1a" stroke-width="0.9"/>
<line x1="232.40" y1="189.3" x2="234.60" y2="189.3" stroke="#1a1a1a" stroke-width="0.9"/>
<line x1="232.40" y1="224.2" x2="234.60" y2="224.2" stroke="#1a1a1a" stroke-width="0.9"/>
<circle cx="233.50" cy="184.40" r="0.9" fill="#4a4a4a"/>
<line x1="242.40" y1="180.2" x2="242.40" y2="205.5" stroke="#1a1a1a" stroke-width="0.9"/>
<line x1="241.30" y1="180.2" x2="243.50" y2="180.2" stroke="#1a1a1a" stroke-width="0.9"/>
<line x1="241.30" y1="205.5" x2="243.50" y2="205.5" stroke="#1a1a1a" stroke-width="0.9"/>
<circle cx="242.40" cy="174.80" r="0.9" fill="#4a4a4a"/>
<line x1="251.30" y1="180.2" x2="251.30" y2="208.0" stroke="#1a1a1a" stroke-width="0.9"/>
<line x1="250.20" y1="180.2" x2="252.40" y2="180.2" stroke="#1a1a1a" stroke-width="0.9"/>
<line x1="250.20" y1="208.0" x2="252.40" y2="208.0" stroke="#1a1a1a" stroke-width="0.9"/>
<circle cx="251.30" cy="174.80" r="0.9" fill="#4a4a4a"/>
<line x1="260.20" y1="179.6" x2="260.20" y2="209.6" stroke="#1a1a1a" stroke-width="0.9"/>
<line x1="259.10" y1="179.6" x2="261.30" y2="179.6" stroke="#1a1a1a" stroke-width="0.9"/>
<line x1="259.10" y1="209.6" x2="261.30" y2="209.6" stroke="#1a1a1a" stroke-width="0.9"/>
<circle cx="260.20" cy="174.40" r="0.9" fill="#4a4a4a"/>
<line x1="269.10" y1="175.7" x2="269.10" y2="208.0" stroke="#1a1a1a" stroke-width="0.9"/>
<line x1="268.00" y1="175.7" x2="270.20" y2="175.7" stroke="#1a1a1a" stroke-width="0.9"/>
<line x1="268.00" y1="208.0" x2="270.20" y2="208.0" stroke="#1a1a1a" stroke-width="0.9"/>
<circle cx="269.10" cy="170.60" r="0.9" fill="#4a4a4a"/>
<line x1="278.00" y1="186.3" x2="278.00" y2="213.7" stroke="#1a1a1a" stroke-width="0.9"/>
<line x1="276.90" y1="186.3" x2="279.10" y2="186.3" stroke="#1a1a1a" stroke-width="0.9"/>
<line x1="276.90" y1="213.7" x2="279.10" y2="213.7" stroke="#1a1a1a" stroke-width="0.9"/>
<circle cx="278.00" cy="181.50" r="0.9" fill="#4a4a4a"/>
<line x1="286.90" y1="171.5" x2="286.90" y2="203.7" stroke="#1a1a1a" stroke-width="0.9"/>
<line x1="285.80" y1="171.5" x2="288.00" y2="171.5" stroke="#1a1a1a" stroke-width="0.9"/>
<line x1="285.80" y1="203.7" x2="288.00" y2="203.7" stroke="#1a1a1a" stroke-width="0.9"/>
<circle cx="286.90" cy="166.70" r="0.9" fill="#4a4a4a"/>
<line x1="295.80" y1="178.2" x2="295.80" y2="210.2" stroke="#1a1a1a" stroke-width="0.9"/>
<line x1="294.70" y1="178.2" x2="296.90" y2="178.2" stroke="#1a1a1a" stroke-width="0.9"/>
<line x1="294.70" y1="210.2" x2="296.90" y2="210.2" stroke="#1a1a1a" stroke-width="0.9"/>
<circle cx="295.80" cy="173.10" r="0.9" fill="#4a4a4a"/>
<line x1="304.70" y1="179.5" x2="304.70" y2="205.5" stroke="#1a1a1a" stroke-width="0.9"/>
<line x1="303.60" y1="179.5" x2="305.80" y2="179.5" stroke="#1a1a1a" stroke-width="0.9"/>
<line x1="303.60" y1="205.5" x2="305.80" y2="205.5" stroke="#1a1a1a" stroke-width="0.9"/>
<circle cx="304.70" cy="174.70" r="0.9" fill="#4a4a4a"/>
<line x1="313.60" y1="178.4" x2="313.60" y2="217.0" stroke="#1a1a1a" stroke-width="0.9"/>
<line x1="312.50" y1="178.4" x2="314.70" y2="178.4" stroke="#1a1a1a" stroke-width="0.9"/>
<line x1="312.50" y1="217.0" x2="314.70" y2="217.0" stroke="#1a1a1a" stroke-width="0.9"/>
<circle cx="313.60" cy="173.70" r="0.9" fill="#4a4a4a"/>
<line x1="322.50" y1="192.3" x2="322.50" y2="224.1" stroke="#1a1a1a" stroke-width="0.9"/>
<line x1="321.40" y1="192.3" x2="323.60" y2="192.3" stroke="#1a1a1a" stroke-width="0.9"/>
<line x1="321.40" y1="224.1" x2="323.60" y2="224.1" stroke="#1a1a1a" stroke-width="0.9"/>
<circle cx="322.50" cy="187.70" r="0.9" fill="#4a4a4a"/>
<line x1="331.40" y1="180.5" x2="331.40" y2="243.2" stroke="#1a1a1a" stroke-width="0.9"/>
<line x1="330.30" y1="180.5" x2="332.50" y2="180.5" stroke="#1a1a1a" stroke-width="0.9"/>
<line x1="330.30" y1="243.2" x2="332.50" y2="243.2" stroke="#1a1a1a" stroke-width="0.9"/>
<circle cx="331.40" cy="175.70" r="0.9" fill="#4a4a4a"/>
<line x1="340.30" y1="163.0" x2="340.30" y2="198.5" stroke="#1a1a1a" stroke-width="0.9"/>
<line x1="339.20" y1="163.0" x2="341.40" y2="163.0" stroke="#1a1a1a" stroke-width="0.9"/>
<line x1="339.20" y1="198.5" x2="341.40" y2="198.5" stroke="#1a1a1a" stroke-width="0.9"/>
<line x1="349.20" y1="156.7" x2="349.20" y2="180.7" stroke="#1a1a1a" stroke-width="0.9"/>
<line x1="348.10" y1="156.7" x2="350.30" y2="156.7" stroke="#1a1a1a" stroke-width="0.9"/>
<line x1="348.10" y1="180.7" x2="350.30" y2="180.7" stroke="#1a1a1a" stroke-width="0.9"/>
<line x1="358.10" y1="160.6" x2="358.10" y2="197.6" stroke="#1a1a1a" stroke-width="0.9"/>
<line x1="357.00" y1="160.6" x2="359.20" y2="160.6" stroke="#1a1a1a" stroke-width="0.9"/>
<line x1="357.00" y1="197.6" x2="359.20" y2="197.6" stroke="#1a1a1a" stroke-width="0.9"/>
<line x1="367.00" y1="159.6" x2="367.00" y2="199.5" stroke="#1a1a1a" stroke-width="0.9"/>
<line x1="365.90" y1="159.6" x2="368.10" y2="159.6" stroke="#1a1a1a" stroke-width="0.9"/>
<line x1="365.90" y1="199.5" x2="368.10" y2="199.5" stroke="#1a1a1a" stroke-width="0.9"/>
<line x1="375.90" y1="159.8" x2="375.90" y2="203.2" stroke="#1a1a1a" stroke-width="0.9"/>
<line x1="374.80" y1="159.8" x2="377.00" y2="159.8" stroke="#1a1a1a" stroke-width="0.9"/>
<line x1="374.80" y1="203.2" x2="377.00" y2="203.2" stroke="#1a1a1a" stroke-width="0.9"/>
<line x1="384.80" y1="159.4" x2="384.80" y2="199.7" stroke="#1a1a1a" stroke-width="0.9"/>
<line x1="383.70" y1="159.4" x2="385.90" y2="159.4" stroke="#1a1a1a" stroke-width="0.9"/>
<line x1="383.70" y1="199.7" x2="385.90" y2="199.7" stroke="#1a1a1a" stroke-width="0.9"/>
<line x1="393.70" y1="179.2" x2="393.70" y2="219.5" stroke="#1a1a1a" stroke-width="0.9"/>
<line x1="392.60" y1="179.2" x2="394.80" y2="179.2" stroke="#1a1a1a" stroke-width="0.9"/>
<line x1="392.60" y1="219.5" x2="394.80" y2="219.5" stroke="#1a1a1a" stroke-width="0.9"/>
<circle cx="393.70" cy="174.50" r="0.9" fill="#4a4a4a"/>
<polyline points="55.50,199.7 64.40,199.3 73.30,206.6 82.20,202.7 91.10,200.9 100.00,194.6 108.90,198.7 117.80,207.4 126.70,206.3 135.60,199.5 144.50,200.3 153.40,207.4 162.30,204.3 171.20,201.1 180.10,195.0 189.00,191.8 197.90,203.1 206.80,198.0 215.70,193.8 224.60,192.6 233.50,206.4 242.40,193.6 251.30,194.4 260.20,195.2 269.10,191.8 278.00,200.5 286.90,188.1 295.80,194.2 304.70,192.7 313.60,198.4 322.50,208.3 331.40,212.0 340.30,180.9 349.20,169.1 358.10,179.5 367.00,179.7 375.90,181.7 384.80,179.7 393.70,199.2" fill="none" stroke="#111" stroke-width="1.15" stroke-linejoin="round"/>
<circle cx="55.50" cy="199.7" r="1.45" fill="#000"/>
<circle cx="64.40" cy="199.3" r="1.45" fill="#000"/>
<circle cx="73.30" cy="206.6" r="1.45" fill="#000"/>
<circle cx="82.20" cy="202.7" r="1.45" fill="#000"/>
<circle cx="91.10" cy="200.9" r="1.45" fill="#000"/>
<circle cx="100.00" cy="194.6" r="1.45" fill="#000"/>
<circle cx="108.90" cy="198.7" r="1.45" fill="#000"/>
<circle cx="117.80" cy="207.4" r="1.45" fill="#000"/>
<circle cx="126.70" cy="206.3" r="1.45" fill="#000"/>
<circle cx="135.60" cy="199.5" r="1.45" fill="#000"/>
<circle cx="144.50" cy="200.3" r="1.45" fill="#000"/>
<circle cx="153.40" cy="207.4" r="1.45" fill="#000"/>
<circle cx="162.30" cy="204.3" r="1.45" fill="#000"/>
<circle cx="171.20" cy="201.1" r="1.45" fill="#000"/>
<circle cx="180.10" cy="195.0" r="1.45" fill="#000"/>
<circle cx="189.00" cy="191.8" r="1.45" fill="#000"/>
<circle cx="197.90" cy="203.1" r="1.45" fill="#000"/>
<circle cx="206.80" cy="198.0" r="1.45" fill="#000"/>
<circle cx="215.70" cy="193.8" r="1.45" fill="#000"/>
<circle cx="224.60" cy="192.6" r="1.45" fill="#000"/>
<circle cx="233.50" cy="206.4" r="1.45" fill="#000"/>
<circle cx="242.40" cy="193.6" r="1.45" fill="#000"/>
<circle cx="251.30" cy="194.4" r="1.45" fill="#000"/>
<circle cx="260.20" cy="195.2" r="1.45" fill="#000"/>
<circle cx="269.10" cy="191.8" r="1.45" fill="#000"/>
<circle cx="278.00" cy="200.5" r="1.45" fill="#000"/>
<circle cx="286.90" cy="188.1" r="1.45" fill="#000"/>
<circle cx="295.80" cy="194.2" r="1.45" fill="#000"/>
<circle cx="304.70" cy="192.7" r="1.45" fill="#000"/>
<circle cx="313.60" cy="198.4" r="1.45" fill="#000"/>
<circle cx="322.50" cy="208.3" r="1.45" fill="#000"/>
<circle cx="331.40" cy="212.0" r="1.45" fill="#000"/>
<circle cx="340.30" cy="180.9" r="1.45" fill="#000"/>
<circle cx="349.20" cy="169.1" r="1.45" fill="#000"/>
<circle cx="358.10" cy="179.5" r="1.45" fill="#000"/>
<circle cx="367.00" cy="179.7" r="1.45" fill="#000"/>
<circle cx="375.90" cy="181.7" r="1.45" fill="#000"/>
<circle cx="384.80" cy="179.7" r="1.45" fill="#000"/>
<circle cx="393.70" cy="199.2" r="1.45" fill="#000"/>
<text x="349.20" y="153.8" font-size="5.0" text-anchor="middle" fill="#f0141e">Max</text>
<rect x="384.6" y="151.79999999999998" width="23.3" height="8" rx="0.8" fill="#fff" stroke="#dcdcdc" stroke-width="0.5"/>
<line x1="386.1" y1="155.6" x2="395.2" y2="155.6" stroke="#111" stroke-width="1"/>
<line x1="390.6" y1="152.9" x2="390.6" y2="158.29999999999998" stroke="#111" stroke-width="0.9"/>
<line x1="389.5" y1="152.9" x2="391.7" y2="152.9" stroke="#111" stroke-width="0.8"/>
<line x1="389.5" y1="158.29999999999998" x2="391.7" y2="158.29999999999998" stroke="#111" stroke-width="0.8"/>
<circle cx="390.6" cy="155.6" r="1.35" fill="#000"/>
<text x="398.3" y="157.2" font-size="4.6" fill="#444">Avg</text>
<text x="2.9" y="160.8" font-size="12" textLength="15.3" lengthAdjust="spacingAndGlyphs" fill="#111">(B)</text>
<text transform="translate(22.05,210.2) rotate(-90) scale(0.75,1)" x="0" y="2.9" font-size="8.2" font-weight="bold" text-anchor="middle" fill="#111" stroke="#111" stroke-width="0.25">AUC</text>
<text x="224.6" y="285.1" font-size="7.8" font-weight="bold" text-anchor="middle" fill="#111">Time (s)</text>
<path d="M521.74,83.52 A62.4,62.4 0 0 0 512.76,89.92" fill="none" stroke="#cfcfcf" stroke-width="0.45"/>
<path d="M512.73,68.16 A80.2,80.2 0 0 0 501.19,76.39" fill="none" stroke="#cfcfcf" stroke-width="0.45"/>
<path d="M503.72,52.81 A98.0,98.0 0 0 0 489.62,62.87" fill="none" stroke="#cfcfcf" stroke-width="0.45"/>
<path d="M494.71,37.46 A115.8,115.8 0 0 0 478.04,49.34" fill="none" stroke="#cfcfcf" stroke-width="0.45"/>
<path d="M496.37,111.85 A62.4,62.4 0 0 0 492.77,122.28" fill="none" stroke="#cfcfcf" stroke-width="0.45"/>
<path d="M480.12,104.59 A80.2,80.2 0 0 0 475.50,117.99" fill="none" stroke="#cfcfcf" stroke-width="0.45"/>
<path d="M463.87,97.32 A98.0,98.0 0 0 0 458.22,113.70" fill="none" stroke="#cfcfcf" stroke-width="0.45"/>
<path d="M447.62,90.05 A115.8,115.8 0 0 0 440.95,109.40" fill="none" stroke="#cfcfcf" stroke-width="0.45"/>
<path d="M492.16,149.66 A62.4,62.4 0 0 0 495.29,160.24" fill="none" stroke="#cfcfcf" stroke-width="0.45"/>
<path d="M474.71,153.18 A80.2,80.2 0 0 0 478.73,166.77" fill="none" stroke="#cfcfcf" stroke-width="0.45"/>
<path d="M457.26,156.70 A98.0,98.0 0 0 0 462.17,173.31" fill="none" stroke="#cfcfcf" stroke-width="0.45"/>
<path d="M439.81,160.21 A115.8,115.8 0 0 0 445.62,179.84" fill="none" stroke="#cfcfcf" stroke-width="0.45"/>
<path d="M510.69,182.88 A62.4,62.4 0 0 0 519.37,189.68" fill="none" stroke="#cfcfcf" stroke-width="0.45"/>
<path d="M498.52,195.88 A80.2,80.2 0 0 0 509.69,204.61" fill="none" stroke="#cfcfcf" stroke-width="0.45"/>
<path d="M486.36,208.87 A98.0,98.0 0 0 0 500.00,219.55" fill="none" stroke="#cfcfcf" stroke-width="0.45"/>
<path d="M474.19,221.87 A115.8,115.8 0 0 0 490.31,234.48" fill="none" stroke="#cfcfcf" stroke-width="0.45"/>
<path d="M545.06,199.18 A62.4,62.4 0 0 0 556.08,199.67" fill="none" stroke="#cfcfcf" stroke-width="0.45"/>
<path d="M542.70,216.82 A80.2,80.2 0 0 0 556.86,217.45" fill="none" stroke="#cfcfcf" stroke-width="0.45"/>
<path d="M540.34,234.47 A98.0,98.0 0 0 0 557.65,235.23" fill="none" stroke="#cfcfcf" stroke-width="0.45"/>
<path d="M537.98,252.11 A115.8,115.8 0 0 0 558.43,253.02" fill="none" stroke="#cfcfcf" stroke-width="0.45"/>
<path d="M606.42,170.12 A62.4,62.4 0 0 0 611.36,160.26" fill="none" stroke="#cfcfcf" stroke-width="0.45"/>
<path d="M621.56,179.47 A80.2,80.2 0 0 0 627.92,166.80" fill="none" stroke="#cfcfcf" stroke-width="0.45"/>
<path d="M636.71,188.83 A98.0,98.0 0 0 0 644.47,173.34" fill="none" stroke="#cfcfcf" stroke-width="0.45"/>
<path d="M651.85,198.18 A115.8,115.8 0 0 0 661.03,179.88" fill="none" stroke="#cfcfcf" stroke-width="0.45"/>
<path d="M553.34,74.93 A62.4,62.4 0 0 0 542.36,75.90" fill="none" stroke="#cfcfcf" stroke-width="0.45"/>
<path d="M553.35,57.13 A80.2,80.2 0 0 0 539.22,58.38" fill="none" stroke="#cfcfcf" stroke-width="0.45"/>
<path d="M553.35,39.33 A98.0,98.0 0 0 0 536.09,40.86" fill="none" stroke="#cfcfcf" stroke-width="0.45"/>
<path d="M553.35,21.53 A115.8,115.8 0 0 0 532.96,23.34" fill="none" stroke="#cfcfcf" stroke-width="0.45"/>
<path d="M543.55,93.82 L532.59,45.03 A94.6,94.6 0 0 0 524.51,47.23 L539.74,94.85 A44.6,44.6 0 0 1 543.55,93.82 Z" fill="#e67080" stroke="#fff" stroke-width="0.9"/>
<path d="M539.74,94.85 L525.06,48.94 A92.8,92.8 0 0 0 517.36,51.78 L536.04,96.22 A44.6,44.6 0 0 1 539.74,94.85 Z" fill="#de6f80" stroke="#fff" stroke-width="0.9"/>
<path d="M536.04,96.22 L520.62,59.53 A84.4,84.4 0 0 0 513.87,62.72 L532.48,97.91 A44.6,44.6 0 0 1 536.04,96.22 Z" fill="#c56a80" stroke="#fff" stroke-width="0.9"/>
<path d="M522.86,104.76 L501.76,82.19 A75.5,75.5 0 0 0 497.08,86.97 L520.10,107.58 A44.6,44.6 0 0 1 522.86,104.76 Z" fill="#8d5f7e" stroke="#fff" stroke-width="0.9"/>
<path d="M520.10,107.58 L483.23,74.56 A94.1,94.1 0 0 0 477.95,81.00 L517.60,110.63 A44.6,44.6 0 0 1 520.10,107.58 Z" fill="#e47080" stroke="#fff" stroke-width="0.9"/>
<path d="M517.60,110.63 L478.51,81.42 A93.4,93.4 0 0 0 473.87,88.25 L515.38,113.89 A44.6,44.6 0 0 1 517.60,110.63 Z" fill="#e16f80" stroke="#fff" stroke-width="0.9"/>
<path d="M515.38,113.89 L469.53,85.57 A98.5,98.5 0 0 0 465.28,93.18 L513.46,117.34 A44.6,44.6 0 0 1 515.38,113.89 Z" fill="#f17681" stroke="#fff" stroke-width="0.9"/>
<path d="M509.61,128.50 L484.03,123.33 A70.7,70.7 0 0 0 483.06,129.51 L509.00,132.40 A44.6,44.6 0 0 1 509.61,128.50 Z" fill="#6a5c80" stroke="#fff" stroke-width="0.9"/>
<path d="M509.00,132.40 L454.24,126.30 A99.7,99.7 0 0 0 453.65,135.10 L508.74,136.33 A44.6,44.6 0 0 1 509.00,132.40 Z" fill="#f37982" stroke="#fff" stroke-width="0.9"/>
<path d="M508.74,136.33 L462.25,135.30 A91.1,91.1 0 0 0 462.43,143.35 L508.83,140.28 A44.6,44.6 0 0 1 508.74,136.33 Z" fill="#d86e80" stroke="#fff" stroke-width="0.9"/>
<path d="M508.83,140.28 L454.75,143.86 A98.8,98.8 0 0 0 455.71,152.55 L509.26,144.20 A44.6,44.6 0 0 1 508.83,140.28 Z" fill="#f17781" stroke="#fff" stroke-width="0.9"/>
<path d="M512.61,155.52 L460.93,178.61 A101.2,101.2 0 0 0 464.94,186.61 L514.38,159.05 A44.6,44.6 0 0 1 512.61,155.52 Z" fill="#f47e82" stroke="#fff" stroke-width="0.9"/>
<path d="M514.38,159.05 L473.85,181.65 A91.0,91.0 0 0 0 478.08,188.50 L516.45,162.41 A44.6,44.6 0 0 1 514.38,159.05 Z" fill="#d86e80" stroke="#fff" stroke-width="0.9"/>
<path d="M516.45,162.41 L470.22,193.84 A100.5,100.5 0 0 0 475.54,200.96 L518.81,165.57 A44.6,44.6 0 0 1 516.45,162.41 Z" fill="#f47a82" stroke="#fff" stroke-width="0.9"/>
<path d="M518.81,165.57 L478.48,198.56 A96.7,96.7 0 0 0 484.19,204.93 L521.44,168.51 A44.6,44.6 0 0 1 518.81,165.57 Z" fill="#ee7380" stroke="#fff" stroke-width="0.9"/>
<path d="M530.74,175.78 L513.26,205.53 A79.1,79.1 0 0 0 519.45,208.81 L534.23,177.63 A44.6,44.6 0 0 1 530.74,175.78 Z" fill="#a76580" stroke="#fff" stroke-width="0.9"/>
<path d="M534.23,177.63 L511.39,225.79 A97.9,97.9 0 0 0 519.38,229.15 L537.86,179.16 A44.6,44.6 0 0 1 534.23,177.63 Z" fill="#f07581" stroke="#fff" stroke-width="0.9"/>
<path d="M537.86,179.16 L520.21,226.90 A95.5,95.5 0 0 0 528.25,229.48 L541.62,180.37 A44.6,44.6 0 0 1 537.86,179.16 Z" fill="#ea7180" stroke="#fff" stroke-width="0.9"/>
<path d="M541.62,180.37 L530.85,219.93 A85.6,85.6 0 0 0 538.24,221.59 L545.47,181.23 A44.6,44.6 0 0 1 541.62,180.37 Z" fill="#c96b80" stroke="#fff" stroke-width="0.9"/>
<path d="M557.26,181.76 L561.69,231.76 A94.8,94.8 0 0 0 570.00,230.65 L561.17,181.23 A44.6,44.6 0 0 1 557.26,181.76 Z" fill="#e77180" stroke="#fff" stroke-width="0.9"/>
<path d="M561.17,181.23 L570.86,235.48 A99.7,99.7 0 0 0 579.47,233.54 L565.02,180.37 A44.6,44.6 0 0 1 561.17,181.23 Z" fill="#f37982" stroke="#fff" stroke-width="0.9"/>
<path d="M565.02,180.37 L578.32,229.30 A95.3,95.3 0 0 0 586.35,226.73 L568.78,179.17 A44.6,44.6 0 0 1 565.02,180.37 Z" fill="#e97180" stroke="#fff" stroke-width="0.9"/>
<path d="M568.78,179.17 L586.45,227.01 A95.6,95.6 0 0 0 594.25,223.73 L572.42,177.64 A44.6,44.6 0 0 1 568.78,179.17 Z" fill="#eb7180" stroke="#fff" stroke-width="0.9"/>
<path d="M572.42,177.64 L597.11,229.79 A102.3,102.3 0 0 0 605.11,225.55 L575.91,175.79 A44.6,44.6 0 0 1 572.42,177.64 Z" fill="#f58483" stroke="#fff" stroke-width="0.9"/>
<path d="M575.91,175.79 L603.29,222.45 A98.7,98.7 0 0 0 610.62,217.70 L579.22,173.65 A44.6,44.6 0 0 1 575.91,175.79 Z" fill="#f17781" stroke="#fff" stroke-width="0.9"/>
<path d="M579.22,173.65 L615.55,224.62 A107.2,107.2 0 0 0 623.02,218.78 L582.33,171.22 A44.6,44.6 0 0 1 579.22,173.65 Z" fill="#f79c8a" stroke="#fff" stroke-width="0.9"/>
<path d="M582.33,171.22 L622.63,218.33 A106.6,106.6 0 0 0 629.52,211.88 L585.21,168.52 A44.6,44.6 0 0 1 582.33,171.22 Z" fill="#f79988" stroke="#fff" stroke-width="0.9"/>
<path d="M585.21,168.52 L630.02,212.37 A107.3,107.3 0 0 0 636.35,205.30 L587.84,165.58 A44.6,44.6 0 0 1 585.21,168.52 Z" fill="#f79c8a" stroke="#fff" stroke-width="0.9"/>
<path d="M587.84,165.58 L632.25,201.94 A102.0,102.0 0 0 0 637.66,194.72 L590.20,162.42 A44.6,44.6 0 0 1 587.84,165.58 Z" fill="#f58283" stroke="#fff" stroke-width="0.9"/>
<path d="M595.49,151.87 L642.38,168.04 A94.2,94.2 0 0 0 644.75,160.05 L596.61,148.09 A44.6,44.6 0 0 1 595.49,151.87 Z" fill="#e47080" stroke="#fff" stroke-width="0.9"/>
<path d="M596.61,148.09 L651.74,161.78 A101.4,101.4 0 0 0 653.51,152.99 L597.39,144.22 A44.6,44.6 0 0 1 596.61,148.09 Z" fill="#f47f82" stroke="#fff" stroke-width="0.9"/>
<path d="M597.39,144.22 L655.88,153.36 A103.8,103.8 0 0 0 656.90,144.23 L597.83,140.30 A44.6,44.6 0 0 1 597.39,144.22 Z" fill="#f68c84" stroke="#fff" stroke-width="0.9"/>
<path d="M597.83,140.30 L658.70,144.35 A105.6,105.6 0 0 0 658.90,135.01 L597.92,136.35 A44.6,44.6 0 0 1 597.83,140.30 Z" fill="#f79586" stroke="#fff" stroke-width="0.9"/>
<path d="M597.92,136.35 L648.01,135.25 A94.7,94.7 0 0 0 647.45,126.89 L597.66,132.42 A44.6,44.6 0 0 1 597.92,136.35 Z" fill="#e77180" stroke="#fff" stroke-width="0.9"/>
<path d="M597.66,132.42 L660.67,125.43 A108.0,108.0 0 0 0 659.20,115.99 L597.05,128.52 A44.6,44.6 0 0 1 597.66,132.42 Z" fill="#f89f8b" stroke="#fff" stroke-width="0.9"/>
<path d="M597.05,128.52 L651.65,117.51 A100.3,100.3 0 0 0 649.52,108.90 L596.10,124.69 A44.6,44.6 0 0 1 597.05,128.52 Z" fill="#f37a82" stroke="#fff" stroke-width="0.9"/>
<path d="M596.10,124.69 L658.43,106.26 A109.6,109.6 0 0 0 655.28,97.09 L594.82,120.96 A44.6,44.6 0 0 1 596.10,124.69 Z" fill="#f8a68f" stroke="#fff" stroke-width="0.9"/>
<path d="M594.82,120.96 L657.60,96.18 A112.1,112.1 0 0 0 653.56,87.12 L593.21,117.35 A44.6,44.6 0 0 1 594.82,120.96 Z" fill="#f8b092" stroke="#fff" stroke-width="0.9"/>
<path d="M593.21,117.35 L650.70,88.55 A108.9,108.9 0 0 0 646.00,80.14 L591.28,113.91 A44.6,44.6 0 0 1 593.21,117.35 Z" fill="#f8a38d" stroke="#fff" stroke-width="0.9"/>
<path d="M591.28,113.91 L646.77,79.67 A109.8,109.8 0 0 0 641.31,71.64 L589.07,110.65 A44.6,44.6 0 0 1 591.28,113.91 Z" fill="#f8a78f" stroke="#fff" stroke-width="0.9"/>
<path d="M589.07,110.65 L637.06,74.81 A104.5,104.5 0 0 0 631.21,67.65 L586.57,107.59 A44.6,44.6 0 0 1 589.07,110.65 Z" fill="#f79084" stroke="#fff" stroke-width="0.9"/>
<path d="M586.57,107.59 L631.80,67.12 A105.3,105.3 0 0 0 625.29,60.46 L583.81,104.77 A44.6,44.6 0 0 1 586.57,107.59 Z" fill="#f79485" stroke="#fff" stroke-width="0.9"/>
<path d="M583.81,104.77 L623.65,62.21 A102.9,102.9 0 0 0 616.74,56.29 L580.81,102.20 A44.6,44.6 0 0 1 583.81,104.77 Z" fill="#f68783" stroke="#fff" stroke-width="0.9"/>
<path d="M580.81,102.20 L612.12,62.19 A95.4,95.4 0 0 0 605.25,57.29 L577.60,99.91 A44.6,44.6 0 0 1 580.81,102.20 Z" fill="#ea7180" stroke="#fff" stroke-width="0.9"/>
<path d="M577.60,99.91 L609.44,50.83 A103.1,103.1 0 0 0 601.57,46.21 L574.20,97.91 A44.6,44.6 0 0 1 577.60,99.91 Z" fill="#f68883" stroke="#fff" stroke-width="0.9"/>
<path d="M574.20,97.91 L601.71,45.95 A103.4,103.4 0 0 0 593.45,42.03 L570.63,96.22 A44.6,44.6 0 0 1 574.20,97.91 Z" fill="#f68a83" stroke="#fff" stroke-width="0.9"/>
<path d="M570.63,96.22 L591.27,47.19 A97.8,97.8 0 0 0 583.16,44.19 L566.93,94.85 A44.6,44.6 0 0 1 570.63,96.22 Z" fill="#f07581" stroke="#fff" stroke-width="0.9"/>
<path d="M566.93,94.85 L583.43,43.33 A98.7,98.7 0 0 0 575.01,41.04 L563.13,93.82 A44.6,44.6 0 0 1 566.93,94.85 Z" fill="#f17781" stroke="#fff" stroke-width="0.9"/>
<path d="M563.13,93.82 L577.42,30.31 A109.7,109.7 0 0 0 567.87,28.60 L559.24,93.12 A44.6,44.6 0 0 1 563.13,93.82 Z" fill="#f8a78f" stroke="#fff" stroke-width="0.9"/>
<path d="M559.24,93.12 L567.78,29.29 A109.0,109.0 0 0 0 558.17,28.44 L555.31,92.77 A44.6,44.6 0 0 1 559.24,93.12 Z" fill="#f8a48e" stroke="#fff" stroke-width="0.9"/>
<text transform="translate(528.51,45.99) rotate(74.80)" y="1.5" font-size="5.1" textLength="21.49" lengthAdjust="spacingAndGlyphs" text-anchor="end" fill="#262626" stroke="#262626" stroke-width="0.12">0.1~2Hz</text>
<text transform="translate(521.16,50.23) rotate(69.73)" y="1.5" font-size="5.1" textLength="16.77" lengthAdjust="spacingAndGlyphs" text-anchor="end" fill="#262626" stroke="#262626" stroke-width="0.12">1~3Hz</text>
<text transform="translate(517.19,61.01) rotate(64.66)" y="1.5" font-size="5.1" textLength="16.77" lengthAdjust="spacingAndGlyphs" text-anchor="end" fill="#262626" stroke="#262626" stroke-width="0.12">2~4Hz</text>
<text transform="translate(499.33,84.49) rotate(44.38)" y="1.5" font-size="5.1" textLength="16.77" lengthAdjust="spacingAndGlyphs" text-anchor="end" fill="#262626" stroke="#262626" stroke-width="0.12">3~5Hz</text>
<text transform="translate(480.48,77.69) rotate(39.31)" y="1.5" font-size="5.1" textLength="16.77" lengthAdjust="spacingAndGlyphs" text-anchor="end" fill="#262626" stroke="#262626" stroke-width="0.12">4~6Hz</text>
<text transform="translate(476.07,84.75) rotate(34.24)" y="1.5" font-size="5.1" textLength="16.77" lengthAdjust="spacingAndGlyphs" text-anchor="end" fill="#262626" stroke="#262626" stroke-width="0.12">5~7Hz</text>
<text transform="translate(467.28,89.30) rotate(29.17)" y="1.5" font-size="5.1" textLength="16.77" lengthAdjust="spacingAndGlyphs" text-anchor="end" fill="#262626" stroke="#262626" stroke-width="0.12">6~8Hz</text>
<text transform="translate(483.43,126.40) rotate(8.88)" y="1.5" font-size="5.1" textLength="16.77" lengthAdjust="spacingAndGlyphs" text-anchor="end" fill="#262626" stroke="#262626" stroke-width="0.12">7~9Hz</text>
<text transform="translate(453.80,130.69) rotate(3.81)" y="1.5" font-size="5.1" textLength="19.91" lengthAdjust="spacingAndGlyphs" text-anchor="end" fill="#262626" stroke="#262626" stroke-width="0.12">8~10Hz</text>
<text transform="translate(462.20,139.33) rotate(358.74)" y="1.5" font-size="5.1" textLength="19.91" lengthAdjust="spacingAndGlyphs" text-anchor="end" fill="#262626" stroke="#262626" stroke-width="0.12">9~11Hz</text>
<text transform="translate(455.08,148.22) rotate(353.67)" y="1.5" font-size="5.1" textLength="23.06" lengthAdjust="spacingAndGlyphs" text-anchor="end" fill="#262626" stroke="#262626" stroke-width="0.12">10~12Hz</text>
<text transform="translate(462.80,182.68) rotate(333.39)" y="1.5" font-size="5.1" textLength="23.06" lengthAdjust="spacingAndGlyphs" text-anchor="end" fill="#262626" stroke="#262626" stroke-width="0.12">11~13Hz</text>
<text transform="translate(475.85,185.15) rotate(328.32)" y="1.5" font-size="5.1" textLength="23.06" lengthAdjust="spacingAndGlyphs" text-anchor="end" fill="#262626" stroke="#262626" stroke-width="0.12">12~14Hz</text>
<text transform="translate(472.76,197.49) rotate(323.25)" y="1.5" font-size="5.1" textLength="23.06" lengthAdjust="spacingAndGlyphs" text-anchor="end" fill="#262626" stroke="#262626" stroke-width="0.12">13~15Hz</text>
<text transform="translate(481.23,201.84) rotate(318.18)" y="1.5" font-size="5.1" textLength="23.06" lengthAdjust="spacingAndGlyphs" text-anchor="end" fill="#262626" stroke="#262626" stroke-width="0.12">14~16Hz</text>
<text transform="translate(516.30,207.28) rotate(297.90)" y="1.5" font-size="5.1" textLength="23.06" lengthAdjust="spacingAndGlyphs" text-anchor="end" fill="#262626" stroke="#262626" stroke-width="0.12">15~17Hz</text>
<text transform="translate(515.33,227.61) rotate(292.83)" y="1.5" font-size="5.1" textLength="23.06" lengthAdjust="spacingAndGlyphs" text-anchor="end" fill="#262626" stroke="#262626" stroke-width="0.12">16~18Hz</text>
<text transform="translate(524.19,228.33) rotate(287.76)" y="1.5" font-size="5.1" textLength="23.06" lengthAdjust="spacingAndGlyphs" text-anchor="end" fill="#262626" stroke="#262626" stroke-width="0.12">17~19Hz</text>
<text transform="translate(534.52,220.89) rotate(282.69)" y="1.5" font-size="5.1" textLength="23.06" lengthAdjust="spacingAndGlyphs" text-anchor="end" fill="#262626" stroke="#262626" stroke-width="0.12">18~20Hz</text>
<text transform="translate(565.87,231.35) rotate(82.41)" y="1.5" font-size="5.1" textLength="23.06" lengthAdjust="spacingAndGlyphs" text-anchor="start" fill="#262626" stroke="#262626" stroke-width="0.12">19~21Hz</text>
<text transform="translate(575.20,234.65) rotate(77.34)" y="1.5" font-size="5.1" textLength="23.06" lengthAdjust="spacingAndGlyphs" text-anchor="start" fill="#262626" stroke="#262626" stroke-width="0.12">20~22Hz</text>
<text transform="translate(582.38,228.15) rotate(72.26)" y="1.5" font-size="5.1" textLength="23.06" lengthAdjust="spacingAndGlyphs" text-anchor="start" fill="#262626" stroke="#262626" stroke-width="0.12">21~23Hz</text>
<text transform="translate(590.40,225.50) rotate(67.19)" y="1.5" font-size="5.1" textLength="23.06" lengthAdjust="spacingAndGlyphs" text-anchor="start" fill="#262626" stroke="#262626" stroke-width="0.12">22~24Hz</text>
<text transform="translate(601.18,227.80) rotate(62.12)" y="1.5" font-size="5.1" textLength="23.06" lengthAdjust="spacingAndGlyphs" text-anchor="start" fill="#262626" stroke="#262626" stroke-width="0.12">23~25Hz</text>
<text transform="translate(607.04,220.20) rotate(57.05)" y="1.5" font-size="5.1" textLength="23.06" lengthAdjust="spacingAndGlyphs" text-anchor="start" fill="#262626" stroke="#262626" stroke-width="0.12">24~26Hz</text>
<text transform="translate(619.38,221.82) rotate(51.98)" y="1.5" font-size="5.1" textLength="23.06" lengthAdjust="spacingAndGlyphs" text-anchor="start" fill="#262626" stroke="#262626" stroke-width="0.12">25~27Hz</text>
<text transform="translate(626.18,215.22) rotate(46.91)" y="1.5" font-size="5.1" textLength="23.06" lengthAdjust="spacingAndGlyphs" text-anchor="start" fill="#262626" stroke="#262626" stroke-width="0.12">26~28Hz</text>
<text transform="translate(633.30,208.94) rotate(41.84)" y="1.5" font-size="5.1" textLength="23.06" lengthAdjust="spacingAndGlyphs" text-anchor="start" fill="#262626" stroke="#262626" stroke-width="0.12">27~29Hz</text>
<text transform="translate(635.07,198.42) rotate(36.77)" y="1.5" font-size="5.1" textLength="23.06" lengthAdjust="spacingAndGlyphs" text-anchor="start" fill="#262626" stroke="#262626" stroke-width="0.12">28~30Hz</text>
<text transform="translate(643.70,164.08) rotate(16.49)" y="1.5" font-size="5.1" textLength="23.06" lengthAdjust="spacingAndGlyphs" text-anchor="start" fill="#262626" stroke="#262626" stroke-width="0.12">29~31Hz</text>
<text transform="translate(652.77,157.42) rotate(11.42)" y="1.5" font-size="5.1" textLength="23.06" lengthAdjust="spacingAndGlyphs" text-anchor="start" fill="#262626" stroke="#262626" stroke-width="0.12">30~32Hz</text>
<text transform="translate(656.54,148.81) rotate(6.35)" y="1.5" font-size="5.1" textLength="23.06" lengthAdjust="spacingAndGlyphs" text-anchor="start" fill="#262626" stroke="#262626" stroke-width="0.12">31~33Hz</text>
<text transform="translate(658.95,139.69) rotate(1.28)" y="1.5" font-size="5.1" textLength="23.06" lengthAdjust="spacingAndGlyphs" text-anchor="start" fill="#262626" stroke="#262626" stroke-width="0.12">32~34Hz</text>
<text transform="translate(647.87,131.06) rotate(-3.79)" y="1.5" font-size="5.1" textLength="23.06" lengthAdjust="spacingAndGlyphs" text-anchor="start" fill="#262626" stroke="#262626" stroke-width="0.12">33~35Hz</text>
<text transform="translate(660.09,120.68) rotate(-8.86)" y="1.5" font-size="5.1" textLength="23.06" lengthAdjust="spacingAndGlyphs" text-anchor="start" fill="#262626" stroke="#262626" stroke-width="0.12">34~36Hz</text>
<text transform="translate(650.73,113.17) rotate(-13.93)" y="1.5" font-size="5.1" textLength="23.06" lengthAdjust="spacingAndGlyphs" text-anchor="start" fill="#262626" stroke="#262626" stroke-width="0.12">35~37Hz</text>
<text transform="translate(657.00,101.63) rotate(-19.00)" y="1.5" font-size="5.1" textLength="23.06" lengthAdjust="spacingAndGlyphs" text-anchor="start" fill="#262626" stroke="#262626" stroke-width="0.12">36~38Hz</text>
<text transform="translate(655.73,91.58) rotate(-24.07)" y="1.5" font-size="5.1" textLength="23.06" lengthAdjust="spacingAndGlyphs" text-anchor="start" fill="#262626" stroke="#262626" stroke-width="0.12">37~39Hz</text>
<text transform="translate(648.49,84.27) rotate(-29.14)" y="1.5" font-size="5.1" textLength="23.06" lengthAdjust="spacingAndGlyphs" text-anchor="start" fill="#262626" stroke="#262626" stroke-width="0.12">38~40Hz</text>
<text transform="translate(644.17,75.56) rotate(-34.21)" y="1.5" font-size="5.1" textLength="23.06" lengthAdjust="spacingAndGlyphs" text-anchor="start" fill="#262626" stroke="#262626" stroke-width="0.12">39~41Hz</text>
<text transform="translate(634.25,71.13) rotate(-39.28)" y="1.5" font-size="5.1" textLength="23.06" lengthAdjust="spacingAndGlyphs" text-anchor="start" fill="#262626" stroke="#262626" stroke-width="0.12">40~42Hz</text>
<text transform="translate(628.66,63.68) rotate(-44.35)" y="1.5" font-size="5.1" textLength="23.06" lengthAdjust="spacingAndGlyphs" text-anchor="start" fill="#262626" stroke="#262626" stroke-width="0.12">41~43Hz</text>
<text transform="translate(620.29,59.13) rotate(-49.43)" y="1.5" font-size="5.1" textLength="23.06" lengthAdjust="spacingAndGlyphs" text-anchor="start" fill="#262626" stroke="#262626" stroke-width="0.12">42~44Hz</text>
<text transform="translate(608.76,59.63) rotate(-54.50)" y="1.5" font-size="5.1" textLength="23.06" lengthAdjust="spacingAndGlyphs" text-anchor="start" fill="#262626" stroke="#262626" stroke-width="0.12">43~45Hz</text>
<text transform="translate(605.58,48.39) rotate(-59.57)" y="1.5" font-size="5.1" textLength="23.06" lengthAdjust="spacingAndGlyphs" text-anchor="start" fill="#262626" stroke="#262626" stroke-width="0.12">44~46Hz</text>
<text transform="translate(597.64,43.85) rotate(-64.64)" y="1.5" font-size="5.1" textLength="23.06" lengthAdjust="spacingAndGlyphs" text-anchor="start" fill="#262626" stroke="#262626" stroke-width="0.12">45~47Hz</text>
<text transform="translate(587.27,45.55) rotate(-69.71)" y="1.5" font-size="5.1" textLength="23.06" lengthAdjust="spacingAndGlyphs" text-anchor="start" fill="#262626" stroke="#262626" stroke-width="0.12">46~48Hz</text>
<text transform="translate(579.26,42.04) rotate(-74.78)" y="1.5" font-size="5.1" textLength="23.06" lengthAdjust="spacingAndGlyphs" text-anchor="start" fill="#262626" stroke="#262626" stroke-width="0.12">47~49Hz</text>
<text transform="translate(572.67,29.30) rotate(-79.85)" y="1.5" font-size="5.1" textLength="23.06" lengthAdjust="spacingAndGlyphs" text-anchor="start" fill="#262626" stroke="#262626" stroke-width="0.12">48~50Hz</text>
<text transform="translate(562.99,28.71) rotate(-84.92)" y="1.5" font-size="5.1" textLength="23.06" lengthAdjust="spacingAndGlyphs" text-anchor="start" fill="#262626" stroke="#262626" stroke-width="0.12">49~51Hz</text>
<path d="M542.80,98.58 A40.15,40.15 0 0 0 536.15,101.04" fill="none" stroke="#222" stroke-width="0.8"/>
<path d="M524.63,109.25 A40.15,40.15 0 0 0 518.27,117.76" fill="none" stroke="#222" stroke-width="0.8"/>
<path d="M513.66,131.13 A40.15,40.15 0 0 0 513.42,141.75" fill="none" stroke="#222" stroke-width="0.8"/>
<path d="M517.43,155.31 A40.15,40.15 0 0 0 523.41,164.10" fill="none" stroke="#222" stroke-width="0.8"/>
<path d="M534.54,172.81 A40.15,40.15 0 0 0 544.51,176.50" fill="none" stroke="#222" stroke-width="0.8"/>
<path d="M558.64,177.13 A40.15,40.15 0 0 0 585.49,161.36" fill="none" stroke="#222" stroke-width="0.8"/>
<path d="M591.83,148.73 A40.15,40.15 0 0 0 556.89,97.34" fill="none" stroke="#222" stroke-width="0.8"/>
<text x="534.6" y="114.4" font-size="8" font-weight="bold" textLength="19.1" lengthAdjust="spacingAndGlyphs" fill="#2b2b2b" stroke="#2b2b2b" stroke-width="0.2">delta</text>
<text x="521.9" y="123.1" font-size="8" font-weight="bold" textLength="20.3" lengthAdjust="spacingAndGlyphs" fill="#2b2b2b" stroke="#2b2b2b" stroke-width="0.2">theta</text>
<text x="515.9" y="138.9" font-size="8" font-weight="bold" textLength="21.1" lengthAdjust="spacingAndGlyphs" fill="#2b2b2b" stroke="#2b2b2b" stroke-width="0.2">alpha</text>
<text x="569" y="120" font-size="8" font-weight="bold" textLength="13.0" lengthAdjust="spacingAndGlyphs" fill="#2b2b2b" stroke="#2b2b2b" stroke-width="0.2">low</text>
<text x="561.7" y="128.2" font-size="8" font-weight="bold" textLength="27.4" lengthAdjust="spacingAndGlyphs" fill="#2b2b2b" stroke="#2b2b2b" stroke-width="0.2">gamma</text>
<text x="520.3" y="154" font-size="8" font-weight="bold" textLength="21.9" lengthAdjust="spacingAndGlyphs" fill="#2b2b2b" stroke="#2b2b2b" stroke-width="0.2">beta1</text>
<text x="533.1" y="164.3" font-size="8" font-weight="bold" textLength="22.2" lengthAdjust="spacingAndGlyphs" fill="#2b2b2b" stroke="#2b2b2b" stroke-width="0.2">beta2</text>
<text x="555.9" y="162.8" font-size="8" font-weight="bold" textLength="21.8" lengthAdjust="spacingAndGlyphs" fill="#2b2b2b" stroke="#2b2b2b" stroke-width="0.2">beta3</text>
<defs><linearGradient id="cb" x1="0" x2="1" y1="0" y2="0"><stop offset="0.0" stop-color="#6a5c80"/><stop offset="0.097" stop-color="#80607f"/><stop offset="0.195" stop-color="#9d6280"/><stop offset="0.29" stop-color="#b0687f"/><stop offset="0.387" stop-color="#c66c80"/><stop offset="0.484" stop-color="#d66e80"/><stop offset="0.581" stop-color="#e97080"/><stop offset="0.66" stop-color="#f47880"/><stop offset="0.76" stop-color="#f88c84"/><stop offset="0.905" stop-color="#f8a08a"/><stop offset="1.0" stop-color="#f8b092"/></linearGradient></defs>
<rect x="495.9" y="276.3" width="123.8" height="3" fill="url(#cb)"/>
<text x="498.20" y="285.2" font-size="4.8" text-anchor="middle" fill="#333">0.3</text>
<text x="525.25" y="285.2" font-size="4.8" text-anchor="middle" fill="#333">0.4</text>
<text x="552.30" y="285.2" font-size="4.8" text-anchor="middle" fill="#333">0.5</text>
<text x="579.35" y="285.2" font-size="4.8" text-anchor="middle" fill="#333">0.6</text>
<text x="606.40" y="285.2" font-size="4.8" text-anchor="middle" fill="#333">0.7</text>
<text x="557.6" y="292.8" font-size="5.4" text-anchor="middle" fill="#333">AUC</text>
<text x="428.9" y="15.9" font-size="12" textLength="15.1" lengthAdjust="spacingAndGlyphs" fill="#111">(C)</text></svg>
</body></html>
